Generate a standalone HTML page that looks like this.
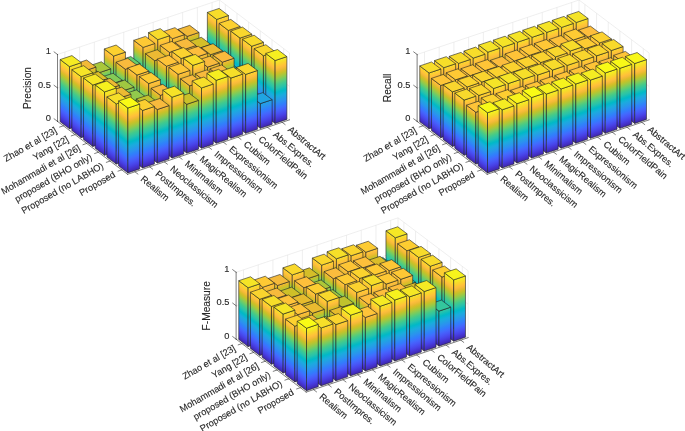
<!DOCTYPE html>
<html><head><meta charset="utf-8"><style>html,body{margin:0;padding:0;background:#fff;}svg{display:block}</style></head>
<body><svg width="685" height="431" viewBox="0 0 685 431"><defs><linearGradient id="pz0" gradientUnits="userSpaceOnUse" x1="0" y1="0" x2="0" y2="0.97"><stop offset="0.0000" stop-color="#3e26a8"/><stop offset="0.0312" stop-color="#422ebf"/><stop offset="0.0625" stop-color="#4536d5"/><stop offset="0.0938" stop-color="#4741e5"/><stop offset="0.1250" stop-color="#484cef"/><stop offset="0.1562" stop-color="#4757f7"/><stop offset="0.1875" stop-color="#4562fc"/><stop offset="0.2188" stop-color="#3f6efe"/><stop offset="0.2500" stop-color="#347afd"/><stop offset="0.2812" stop-color="#2e85f8"/><stop offset="0.3125" stop-color="#2c90f0"/><stop offset="0.3438" stop-color="#269ae9"/><stop offset="0.3750" stop-color="#21a3e3"/><stop offset="0.4062" stop-color="#1aacdd"/><stop offset="0.4375" stop-color="#0cb3d3"/><stop offset="0.4688" stop-color="#01b9c6"/><stop offset="0.5000" stop-color="#12beb9"/><stop offset="0.5312" stop-color="#28c2ab"/><stop offset="0.5625" stop-color="#34c79c"/><stop offset="0.5938" stop-color="#44ca8a"/><stop offset="0.6250" stop-color="#5ccc76"/><stop offset="0.6562" stop-color="#77cc60"/><stop offset="0.6875" stop-color="#94ca4a"/><stop offset="0.7188" stop-color="#afc637"/><stop offset="0.7500" stop-color="#c8c129"/><stop offset="0.7812" stop-color="#debc2a"/><stop offset="0.8125" stop-color="#f1ba37"/><stop offset="0.8438" stop-color="#febe3c"/><stop offset="0.8750" stop-color="#feca33"/><stop offset="0.9062" stop-color="#f9d62d"/><stop offset="0.9375" stop-color="#f5e327"/><stop offset="0.9688" stop-color="#f6ef20"/><stop offset="1.0000" stop-color="#f9fb15"/></linearGradient><linearGradient id="pz1" gradientUnits="userSpaceOnUse" x1="0" y1="0" x2="0" y2="0.905"><stop offset="0.0000" stop-color="#3e26a8"/><stop offset="0.0312" stop-color="#422ebf"/><stop offset="0.0625" stop-color="#4536d5"/><stop offset="0.0938" stop-color="#4741e5"/><stop offset="0.1250" stop-color="#484cef"/><stop offset="0.1562" stop-color="#4757f7"/><stop offset="0.1875" stop-color="#4562fc"/><stop offset="0.2188" stop-color="#3f6efe"/><stop offset="0.2500" stop-color="#347afd"/><stop offset="0.2812" stop-color="#2e85f8"/><stop offset="0.3125" stop-color="#2c90f0"/><stop offset="0.3438" stop-color="#269ae9"/><stop offset="0.3750" stop-color="#21a3e3"/><stop offset="0.4062" stop-color="#1aacdd"/><stop offset="0.4375" stop-color="#0cb3d3"/><stop offset="0.4688" stop-color="#01b9c6"/><stop offset="0.5000" stop-color="#12beb9"/><stop offset="0.5312" stop-color="#28c2ab"/><stop offset="0.5625" stop-color="#34c79c"/><stop offset="0.5938" stop-color="#44ca8a"/><stop offset="0.6250" stop-color="#5ccc76"/><stop offset="0.6562" stop-color="#77cc60"/><stop offset="0.6875" stop-color="#94ca4a"/><stop offset="0.7188" stop-color="#afc637"/><stop offset="0.7500" stop-color="#c8c129"/><stop offset="0.7812" stop-color="#debc2a"/><stop offset="0.8125" stop-color="#f1ba37"/><stop offset="0.8438" stop-color="#febe3c"/><stop offset="0.8750" stop-color="#feca33"/><stop offset="0.9062" stop-color="#f9d62d"/><stop offset="0.9375" stop-color="#f5e327"/><stop offset="0.9688" stop-color="#f6ef20"/><stop offset="1.0000" stop-color="#f9fb15"/></linearGradient><linearGradient id="pz2" gradientUnits="userSpaceOnUse" x1="0" y1="0" x2="0" y2="0.934"><stop offset="0.0000" stop-color="#3e26a8"/><stop offset="0.0312" stop-color="#422ebf"/><stop offset="0.0625" stop-color="#4536d5"/><stop offset="0.0938" stop-color="#4741e5"/><stop offset="0.1250" stop-color="#484cef"/><stop offset="0.1562" stop-color="#4757f7"/><stop offset="0.1875" stop-color="#4562fc"/><stop offset="0.2188" stop-color="#3f6efe"/><stop offset="0.2500" stop-color="#347afd"/><stop offset="0.2812" stop-color="#2e85f8"/><stop offset="0.3125" stop-color="#2c90f0"/><stop offset="0.3438" stop-color="#269ae9"/><stop offset="0.3750" stop-color="#21a3e3"/><stop offset="0.4062" stop-color="#1aacdd"/><stop offset="0.4375" stop-color="#0cb3d3"/><stop offset="0.4688" stop-color="#01b9c6"/><stop offset="0.5000" stop-color="#12beb9"/><stop offset="0.5312" stop-color="#28c2ab"/><stop offset="0.5625" stop-color="#34c79c"/><stop offset="0.5938" stop-color="#44ca8a"/><stop offset="0.6250" stop-color="#5ccc76"/><stop offset="0.6562" stop-color="#77cc60"/><stop offset="0.6875" stop-color="#94ca4a"/><stop offset="0.7188" stop-color="#afc637"/><stop offset="0.7500" stop-color="#c8c129"/><stop offset="0.7812" stop-color="#debc2a"/><stop offset="0.8125" stop-color="#f1ba37"/><stop offset="0.8438" stop-color="#febe3c"/><stop offset="0.8750" stop-color="#feca33"/><stop offset="0.9062" stop-color="#f9d62d"/><stop offset="0.9375" stop-color="#f5e327"/><stop offset="0.9688" stop-color="#f6ef20"/><stop offset="1.0000" stop-color="#f9fb15"/></linearGradient></defs><g stroke="#dedede" stroke-width="0.5" fill="none"><line x1="57.52" y1="121.38" x2="219.44" y2="66.93"/><line x1="219.44" y1="66.93" x2="289.52" y2="119.85"/><line x1="57.52" y1="87.93" x2="219.44" y2="33.48"/><line x1="219.44" y1="33.48" x2="289.52" y2="86.40"/><line x1="57.52" y1="54.48" x2="219.44" y2="0.03"/><line x1="219.44" y1="0.03" x2="289.52" y2="52.95"/><line x1="64.88" y1="118.91" x2="64.88" y2="52.01"/><line x1="134.96" y1="171.83" x2="64.88" y2="118.91"/><line x1="79.60" y1="113.95" x2="79.60" y2="47.05"/><line x1="149.68" y1="166.88" x2="79.60" y2="113.95"/><line x1="94.32" y1="109.01" x2="94.32" y2="42.11"/><line x1="164.40" y1="161.93" x2="94.32" y2="109.01"/><line x1="109.04" y1="104.06" x2="109.04" y2="37.16"/><line x1="179.12" y1="156.98" x2="109.04" y2="104.06"/><line x1="123.76" y1="99.11" x2="123.76" y2="32.20"/><line x1="193.84" y1="152.03" x2="123.76" y2="99.11"/><line x1="138.48" y1="94.16" x2="138.48" y2="27.26"/><line x1="208.56" y1="147.08" x2="138.48" y2="94.16"/><line x1="153.20" y1="89.20" x2="153.20" y2="22.30"/><line x1="223.28" y1="142.12" x2="153.20" y2="89.20"/><line x1="167.92" y1="84.26" x2="167.92" y2="17.36"/><line x1="238.00" y1="137.18" x2="167.92" y2="84.26"/><line x1="182.64" y1="79.31" x2="182.64" y2="12.41"/><line x1="252.72" y1="132.23" x2="182.64" y2="79.31"/><line x1="197.36" y1="74.36" x2="197.36" y2="7.45"/><line x1="267.44" y1="127.28" x2="197.36" y2="74.36"/><line x1="212.08" y1="69.41" x2="212.08" y2="2.51"/><line x1="282.16" y1="122.33" x2="212.08" y2="69.41"/><line x1="283.68" y1="115.44" x2="283.68" y2="48.54"/><line x1="121.76" y1="169.89" x2="283.68" y2="115.44"/><line x1="272.00" y1="106.62" x2="272.00" y2="39.72"/><line x1="110.08" y1="161.07" x2="272.00" y2="106.62"/><line x1="260.32" y1="97.80" x2="260.32" y2="30.90"/><line x1="98.40" y1="152.25" x2="260.32" y2="97.80"/><line x1="248.64" y1="88.98" x2="248.64" y2="22.08"/><line x1="86.72" y1="143.43" x2="248.64" y2="88.98"/><line x1="236.96" y1="80.16" x2="236.96" y2="13.26"/><line x1="75.04" y1="134.61" x2="236.96" y2="80.16"/><line x1="225.28" y1="71.34" x2="225.28" y2="4.44"/><line x1="63.36" y1="125.79" x2="225.28" y2="71.34"/><line x1="219.44" y1="66.93" x2="219.44" y2="0.03"/><line x1="289.52" y1="119.85" x2="289.52" y2="52.95"/></g><g><path transform="matrix(-11.6800,-8.8200,0.0000,-66.9000,276.272,124.305)" d="M5.100,0H5.900V0.8950H5.100Z" fill="url(#pz0)" stroke="#222" stroke-width="0.6" stroke-linejoin="round" vector-effect="non-scaling-stroke"/><path transform="matrix(14.7200,-4.9500,0.0000,-66.9000,68.032,129.318)" d="M10.100,0H10.900V0.8950H10.100Z" fill="url(#pz0)" stroke="#222" stroke-width="0.6" stroke-linejoin="round" vector-effect="non-scaling-stroke"/><path d="M216.70,19.45L228.48,15.49L219.14,8.43L207.36,12.39Z" fill="#f7dd2a" stroke="#222" stroke-width="0.6" stroke-linejoin="round"/><path transform="matrix(-11.6800,-8.8200,0.0000,-66.9000,261.552,129.255)" d="M5.100,0H5.900V0.4500H5.100Z" fill="url(#pz0)" stroke="#222" stroke-width="0.6" stroke-linejoin="round" vector-effect="non-scaling-stroke"/><path transform="matrix(14.7200,-4.9500,0.0000,-66.9000,68.032,129.318)" d="M9.100,0H9.900V0.4500H9.100Z" fill="url(#pz0)" stroke="#222" stroke-width="0.6" stroke-linejoin="round" vector-effect="non-scaling-stroke"/><path d="M201.98,54.17L213.76,50.21L204.42,43.15L192.64,47.11Z" fill="#01b8c8" stroke="#222" stroke-width="0.6" stroke-linejoin="round"/><path transform="matrix(-11.6800,-8.8200,0.0000,-66.9000,276.272,124.305)" d="M4.100,0H4.900V0.8630H4.100Z" fill="url(#pz0)" stroke="#222" stroke-width="0.6" stroke-linejoin="round" vector-effect="non-scaling-stroke"/><path transform="matrix(14.7200,-4.9500,0.0000,-66.9000,79.712,138.138)" d="M10.100,0H10.900V0.8630H10.100Z" fill="url(#pz0)" stroke="#222" stroke-width="0.6" stroke-linejoin="round" vector-effect="non-scaling-stroke"/><path d="M228.38,30.41L240.16,26.45L230.82,19.39L219.04,23.35Z" fill="#fcd030" stroke="#222" stroke-width="0.6" stroke-linejoin="round"/><path transform="matrix(-11.6800,-8.8200,0.0000,-66.9000,246.832,134.205)" d="M5.100,0H5.900V0.7900H5.100Z" fill="url(#pz0)" stroke="#222" stroke-width="0.6" stroke-linejoin="round" vector-effect="non-scaling-stroke"/><path transform="matrix(14.7200,-4.9500,0.0000,-66.9000,68.032,129.318)" d="M8.100,0H8.900V0.7900H8.100Z" fill="url(#pz0)" stroke="#222" stroke-width="0.6" stroke-linejoin="round" vector-effect="non-scaling-stroke"/><path d="M187.26,36.37L199.04,32.41L189.70,25.36L177.92,29.32Z" fill="#f2ba38" stroke="#222" stroke-width="0.6" stroke-linejoin="round"/><path transform="matrix(-11.6800,-8.8200,0.0000,-66.9000,261.552,129.255)" d="M4.100,0H4.900V0.4500H4.100Z" fill="url(#pz0)" stroke="#222" stroke-width="0.6" stroke-linejoin="round" vector-effect="non-scaling-stroke"/><path transform="matrix(14.7200,-4.9500,0.0000,-66.9000,79.712,138.138)" d="M9.100,0H9.900V0.4500H9.100Z" fill="url(#pz0)" stroke="#222" stroke-width="0.6" stroke-linejoin="round" vector-effect="non-scaling-stroke"/><path d="M213.66,62.99L225.44,59.03L216.10,51.97L204.32,55.93Z" fill="#01b8c8" stroke="#222" stroke-width="0.6" stroke-linejoin="round"/><path transform="matrix(-11.6800,-8.8200,0.0000,-66.9000,276.272,124.305)" d="M3.100,0H3.900V0.8800H3.100Z" fill="url(#pz0)" stroke="#222" stroke-width="0.6" stroke-linejoin="round" vector-effect="non-scaling-stroke"/><path transform="matrix(14.7200,-4.9500,0.0000,-66.9000,91.392,146.958)" d="M10.100,0H10.900V0.8800H10.100Z" fill="url(#pz0)" stroke="#222" stroke-width="0.6" stroke-linejoin="round" vector-effect="non-scaling-stroke"/><path d="M240.06,38.09L251.84,34.13L242.50,27.07L230.72,31.04Z" fill="#f9d72d" stroke="#222" stroke-width="0.6" stroke-linejoin="round"/><path transform="matrix(-11.6800,-8.8200,0.0000,-66.9000,232.112,139.155)" d="M5.100,0H5.900V0.8300H5.100Z" fill="url(#pz0)" stroke="#222" stroke-width="0.6" stroke-linejoin="round" vector-effect="non-scaling-stroke"/><path transform="matrix(14.7200,-4.9500,0.0000,-66.9000,68.032,129.318)" d="M7.100,0H7.900V0.8300H7.100Z" fill="url(#pz0)" stroke="#222" stroke-width="0.6" stroke-linejoin="round" vector-effect="non-scaling-stroke"/><path d="M172.54,38.65L184.32,34.69L174.98,27.63L163.20,31.59Z" fill="#fec338" stroke="#222" stroke-width="0.6" stroke-linejoin="round"/><path transform="matrix(-11.6800,-8.8200,0.0000,-66.9000,246.832,134.205)" d="M4.100,0H4.900V0.7430H4.100Z" fill="url(#pz0)" stroke="#222" stroke-width="0.6" stroke-linejoin="round" vector-effect="non-scaling-stroke"/><path transform="matrix(14.7200,-4.9500,0.0000,-66.9000,79.712,138.138)" d="M8.100,0H8.900V0.7430H8.100Z" fill="url(#pz0)" stroke="#222" stroke-width="0.6" stroke-linejoin="round" vector-effect="non-scaling-stroke"/><path d="M198.94,48.34L210.72,44.38L201.38,37.32L189.60,41.28Z" fill="#d4bf28" stroke="#222" stroke-width="0.6" stroke-linejoin="round"/><path transform="matrix(-11.6800,-8.8200,0.0000,-66.9000,261.552,129.255)" d="M3.100,0H3.900V0.4500H3.100Z" fill="url(#pz0)" stroke="#222" stroke-width="0.6" stroke-linejoin="round" vector-effect="non-scaling-stroke"/><path transform="matrix(14.7200,-4.9500,0.0000,-66.9000,91.392,146.958)" d="M9.100,0H9.900V0.4500H9.100Z" fill="url(#pz0)" stroke="#222" stroke-width="0.6" stroke-linejoin="round" vector-effect="non-scaling-stroke"/><path d="M225.34,71.81L237.12,67.85L227.78,60.79L216.00,64.75Z" fill="#01b8c8" stroke="#222" stroke-width="0.6" stroke-linejoin="round"/><path transform="matrix(-11.6800,-8.8200,0.0000,-66.9000,276.272,124.305)" d="M2.100,0H2.900V0.8900H2.100Z" fill="url(#pz0)" stroke="#222" stroke-width="0.6" stroke-linejoin="round" vector-effect="non-scaling-stroke"/><path transform="matrix(14.7200,-4.9500,0.0000,-66.9000,103.072,155.778)" d="M10.100,0H10.900V0.8900H10.100Z" fill="url(#pz0)" stroke="#222" stroke-width="0.6" stroke-linejoin="round" vector-effect="non-scaling-stroke"/><path d="M251.74,46.24L263.52,42.28L254.18,35.23L242.40,39.19Z" fill="#f7db2b" stroke="#222" stroke-width="0.6" stroke-linejoin="round"/><path transform="matrix(-11.6800,-8.8200,0.0000,-66.9000,217.392,144.105)" d="M5.100,0H5.900V0.8890H5.100Z" fill="url(#pz0)" stroke="#222" stroke-width="0.6" stroke-linejoin="round" vector-effect="non-scaling-stroke"/><path transform="matrix(14.7200,-4.9500,0.0000,-66.9000,68.032,129.318)" d="M6.100,0H6.900V0.8890H6.100Z" fill="url(#pz0)" stroke="#222" stroke-width="0.6" stroke-linejoin="round" vector-effect="non-scaling-stroke"/><path d="M157.82,39.65L169.60,35.69L160.26,28.63L148.48,32.59Z" fill="#f7db2b" stroke="#222" stroke-width="0.6" stroke-linejoin="round"/><path transform="matrix(-11.6800,-8.8200,0.0000,-66.9000,232.112,139.155)" d="M4.100,0H4.900V0.8000H4.100Z" fill="url(#pz0)" stroke="#222" stroke-width="0.6" stroke-linejoin="round" vector-effect="non-scaling-stroke"/><path transform="matrix(14.7200,-4.9500,0.0000,-66.9000,79.712,138.138)" d="M7.100,0H7.900V0.8000H7.100Z" fill="url(#pz0)" stroke="#222" stroke-width="0.6" stroke-linejoin="round" vector-effect="non-scaling-stroke"/><path d="M184.22,49.47L196.00,45.51L186.66,38.46L174.88,42.42Z" fill="#f8ba3d" stroke="#222" stroke-width="0.6" stroke-linejoin="round"/><path transform="matrix(-11.6800,-8.8200,0.0000,-66.9000,246.832,134.205)" d="M3.100,0H3.900V0.7800H3.100Z" fill="url(#pz0)" stroke="#222" stroke-width="0.6" stroke-linejoin="round" vector-effect="non-scaling-stroke"/><path transform="matrix(14.7200,-4.9500,0.0000,-66.9000,91.392,146.958)" d="M8.100,0H8.900V0.7800H8.100Z" fill="url(#pz0)" stroke="#222" stroke-width="0.6" stroke-linejoin="round" vector-effect="non-scaling-stroke"/><path d="M210.62,54.68L222.40,50.72L213.06,43.66L201.28,47.63Z" fill="#ecba33" stroke="#222" stroke-width="0.6" stroke-linejoin="round"/><path transform="matrix(-11.6800,-8.8200,0.0000,-66.9000,261.552,129.255)" d="M2.100,0H2.900V0.4500H2.100Z" fill="url(#pz0)" stroke="#222" stroke-width="0.6" stroke-linejoin="round" vector-effect="non-scaling-stroke"/><path transform="matrix(14.7200,-4.9500,0.0000,-66.9000,103.072,155.778)" d="M9.100,0H9.900V0.4500H9.100Z" fill="url(#pz0)" stroke="#222" stroke-width="0.6" stroke-linejoin="round" vector-effect="non-scaling-stroke"/><path d="M237.02,80.63L248.80,76.67L239.46,69.61L227.68,73.57Z" fill="#01b8c8" stroke="#222" stroke-width="0.6" stroke-linejoin="round"/><path transform="matrix(-11.6800,-8.8200,0.0000,-66.9000,276.272,124.305)" d="M1.100,0H1.900V0.8800H1.100Z" fill="url(#pz0)" stroke="#222" stroke-width="0.6" stroke-linejoin="round" vector-effect="non-scaling-stroke"/><path transform="matrix(14.7200,-4.9500,0.0000,-66.9000,114.752,164.598)" d="M10.100,0H10.900V0.8800H10.100Z" fill="url(#pz0)" stroke="#222" stroke-width="0.6" stroke-linejoin="round" vector-effect="non-scaling-stroke"/><path d="M263.42,55.73L275.20,51.77L265.86,44.71L254.08,48.68Z" fill="#f9d72d" stroke="#222" stroke-width="0.6" stroke-linejoin="round"/><path transform="matrix(-11.6800,-8.8200,0.0000,-66.9000,202.672,149.055)" d="M5.100,0H5.900V0.8470H5.100Z" fill="url(#pz0)" stroke="#222" stroke-width="0.6" stroke-linejoin="round" vector-effect="non-scaling-stroke"/><path transform="matrix(14.7200,-4.9500,0.0000,-66.9000,68.032,129.318)" d="M5.100,0H5.900V0.8470H5.100Z" fill="url(#pz0)" stroke="#222" stroke-width="0.6" stroke-linejoin="round" vector-effect="non-scaling-stroke"/><path d="M143.10,47.41L154.88,43.45L145.54,36.39L133.76,40.35Z" fill="#fec934" stroke="#222" stroke-width="0.6" stroke-linejoin="round"/><path transform="matrix(-11.6800,-8.8200,0.0000,-66.9000,217.392,144.105)" d="M4.100,0H4.900V0.8300H4.100Z" fill="url(#pz0)" stroke="#222" stroke-width="0.6" stroke-linejoin="round" vector-effect="non-scaling-stroke"/><path transform="matrix(14.7200,-4.9500,0.0000,-66.9000,79.712,138.138)" d="M6.100,0H6.900V0.8300H6.100Z" fill="url(#pz0)" stroke="#222" stroke-width="0.6" stroke-linejoin="round" vector-effect="non-scaling-stroke"/><path d="M169.50,52.42L181.28,48.46L171.94,41.40L160.16,45.36Z" fill="#fec338" stroke="#222" stroke-width="0.6" stroke-linejoin="round"/><path transform="matrix(-11.6800,-8.8200,0.0000,-66.9000,232.112,139.155)" d="M3.100,0H3.900V0.8150H3.100Z" fill="url(#pz0)" stroke="#222" stroke-width="0.6" stroke-linejoin="round" vector-effect="non-scaling-stroke"/><path transform="matrix(14.7200,-4.9500,0.0000,-66.9000,91.392,146.958)" d="M7.100,0H7.900V0.8150H7.100Z" fill="url(#pz0)" stroke="#222" stroke-width="0.6" stroke-linejoin="round" vector-effect="non-scaling-stroke"/><path d="M195.90,57.29L207.68,53.33L198.34,46.27L186.56,50.23Z" fill="#fdbd3c" stroke="#222" stroke-width="0.6" stroke-linejoin="round"/><path transform="matrix(-11.6800,-8.8200,0.0000,-66.9000,246.832,134.205)" d="M2.100,0H2.900V0.8000H2.100Z" fill="url(#pz0)" stroke="#222" stroke-width="0.6" stroke-linejoin="round" vector-effect="non-scaling-stroke"/><path transform="matrix(14.7200,-4.9500,0.0000,-66.9000,103.072,155.778)" d="M8.100,0H8.900V0.8000H8.100Z" fill="url(#pz0)" stroke="#222" stroke-width="0.6" stroke-linejoin="round" vector-effect="non-scaling-stroke"/><path d="M222.30,62.16L234.08,58.20L224.74,51.15L212.96,55.11Z" fill="#f8ba3d" stroke="#222" stroke-width="0.6" stroke-linejoin="round"/><path transform="matrix(-11.6800,-8.8200,0.0000,-66.9000,261.552,129.255)" d="M1.100,0H1.900V0.3000H1.100Z" fill="url(#pz0)" stroke="#222" stroke-width="0.6" stroke-linejoin="round" vector-effect="non-scaling-stroke"/><path transform="matrix(14.7200,-4.9500,0.0000,-66.9000,114.752,164.598)" d="M9.100,0H9.900V0.3000H9.100Z" fill="url(#pz0)" stroke="#222" stroke-width="0.6" stroke-linejoin="round" vector-effect="non-scaling-stroke"/><path d="M248.70,99.48L260.48,95.52L251.14,88.47L239.36,92.43Z" fill="#2c8ff1" stroke="#222" stroke-width="0.6" stroke-linejoin="round"/><path transform="matrix(-11.6800,-8.8200,0.0000,-66.9000,276.272,124.305)" d="M0.100,0H0.900V0.9400H0.100Z" fill="url(#pz0)" stroke="#222" stroke-width="0.6" stroke-linejoin="round" vector-effect="non-scaling-stroke"/><path transform="matrix(14.7200,-4.9500,0.0000,-66.9000,126.432,173.418)" d="M10.100,0H10.900V0.9400H10.100Z" fill="url(#pz0)" stroke="#222" stroke-width="0.6" stroke-linejoin="round" vector-effect="non-scaling-stroke"/><path d="M275.10,60.54L286.88,56.58L277.54,49.52L265.76,53.48Z" fill="#f6ef20" stroke="#222" stroke-width="0.6" stroke-linejoin="round"/><path transform="matrix(-11.6800,-8.8200,0.0000,-66.9000,187.952,154.005)" d="M5.100,0H5.900V0.6200H5.100Z" fill="url(#pz0)" stroke="#222" stroke-width="0.6" stroke-linejoin="round" vector-effect="non-scaling-stroke"/><path transform="matrix(14.7200,-4.9500,0.0000,-66.9000,68.032,129.318)" d="M4.100,0H4.900V0.6200H4.100Z" fill="url(#pz0)" stroke="#222" stroke-width="0.6" stroke-linejoin="round" vector-effect="non-scaling-stroke"/><path d="M128.38,67.55L140.16,63.59L130.82,56.53L119.04,60.49Z" fill="#67cd6c" stroke="#222" stroke-width="0.6" stroke-linejoin="round"/><path transform="matrix(-11.6800,-8.8200,0.0000,-66.9000,202.672,149.055)" d="M4.100,0H4.900V0.7800H4.100Z" fill="url(#pz0)" stroke="#222" stroke-width="0.6" stroke-linejoin="round" vector-effect="non-scaling-stroke"/><path transform="matrix(14.7200,-4.9500,0.0000,-66.9000,79.712,138.138)" d="M5.100,0H5.900V0.7800H5.100Z" fill="url(#pz0)" stroke="#222" stroke-width="0.6" stroke-linejoin="round" vector-effect="non-scaling-stroke"/><path d="M154.78,60.71L166.56,56.75L157.22,49.69L145.44,53.65Z" fill="#ecba33" stroke="#222" stroke-width="0.6" stroke-linejoin="round"/><path transform="matrix(-11.6800,-8.8200,0.0000,-66.9000,217.392,144.105)" d="M3.100,0H3.900V0.8700H3.100Z" fill="url(#pz0)" stroke="#222" stroke-width="0.6" stroke-linejoin="round" vector-effect="non-scaling-stroke"/><path transform="matrix(14.7200,-4.9500,0.0000,-66.9000,91.392,146.958)" d="M6.100,0H6.900V0.8700H6.100Z" fill="url(#pz0)" stroke="#222" stroke-width="0.6" stroke-linejoin="round" vector-effect="non-scaling-stroke"/><path d="M181.18,58.56L192.96,54.60L183.62,47.54L171.84,51.50Z" fill="#fbd32f" stroke="#222" stroke-width="0.6" stroke-linejoin="round"/><path transform="matrix(-11.6800,-8.8200,0.0000,-66.9000,232.112,139.155)" d="M2.100,0H2.900V0.8000H2.100Z" fill="url(#pz0)" stroke="#222" stroke-width="0.6" stroke-linejoin="round" vector-effect="non-scaling-stroke"/><path transform="matrix(14.7200,-4.9500,0.0000,-66.9000,103.072,155.778)" d="M7.100,0H7.900V0.8000H7.100Z" fill="url(#pz0)" stroke="#222" stroke-width="0.6" stroke-linejoin="round" vector-effect="non-scaling-stroke"/><path d="M207.58,67.11L219.36,63.15L210.02,56.10L198.24,60.06Z" fill="#f8ba3d" stroke="#222" stroke-width="0.6" stroke-linejoin="round"/><path transform="matrix(-11.6800,-8.8200,0.0000,-66.9000,246.832,134.205)" d="M1.100,0H1.900V0.6800H1.100Z" fill="url(#pz0)" stroke="#222" stroke-width="0.6" stroke-linejoin="round" vector-effect="non-scaling-stroke"/><path transform="matrix(14.7200,-4.9500,0.0000,-66.9000,114.752,164.598)" d="M8.100,0H8.900V0.6800H8.100Z" fill="url(#pz0)" stroke="#222" stroke-width="0.6" stroke-linejoin="round" vector-effect="non-scaling-stroke"/><path d="M233.98,79.01L245.76,75.05L236.42,68.00L224.64,71.96Z" fill="#a0c841" stroke="#222" stroke-width="0.6" stroke-linejoin="round"/><path transform="matrix(-11.6800,-8.8200,0.0000,-66.9000,261.552,129.255)" d="M0.100,0H0.900V0.3700H0.100Z" fill="url(#pz0)" stroke="#222" stroke-width="0.6" stroke-linejoin="round" vector-effect="non-scaling-stroke"/><path transform="matrix(14.7200,-4.9500,0.0000,-66.9000,126.432,173.418)" d="M9.100,0H9.900V0.3700H9.100Z" fill="url(#pz0)" stroke="#222" stroke-width="0.6" stroke-linejoin="round" vector-effect="non-scaling-stroke"/><path d="M260.38,103.62L272.16,99.66L262.82,92.60L251.04,96.56Z" fill="#20a5e2" stroke="#222" stroke-width="0.6" stroke-linejoin="round"/><path transform="matrix(-11.6800,-8.8200,0.0000,-66.9000,173.232,158.955)" d="M5.100,0H5.900V0.8660H5.100Z" fill="url(#pz0)" stroke="#222" stroke-width="0.6" stroke-linejoin="round" vector-effect="non-scaling-stroke"/><path transform="matrix(14.7200,-4.9500,0.0000,-66.9000,68.032,129.318)" d="M3.100,0H3.900V0.8660H3.100Z" fill="url(#pz0)" stroke="#222" stroke-width="0.6" stroke-linejoin="round" vector-effect="non-scaling-stroke"/><path d="M113.66,56.04L125.44,52.08L116.10,45.02L104.32,48.98Z" fill="#fcd12f" stroke="#222" stroke-width="0.6" stroke-linejoin="round"/><path transform="matrix(-11.6800,-8.8200,0.0000,-66.9000,187.952,154.005)" d="M4.100,0H4.900V0.6000H4.100Z" fill="url(#pz0)" stroke="#222" stroke-width="0.6" stroke-linejoin="round" vector-effect="non-scaling-stroke"/><path transform="matrix(14.7200,-4.9500,0.0000,-66.9000,79.712,138.138)" d="M4.100,0H4.900V0.6000H4.100Z" fill="url(#pz0)" stroke="#222" stroke-width="0.6" stroke-linejoin="round" vector-effect="non-scaling-stroke"/><path d="M140.06,77.70L151.84,73.74L142.50,66.69L130.72,70.65Z" fill="#56cc7a" stroke="#222" stroke-width="0.6" stroke-linejoin="round"/><path transform="matrix(-11.6800,-8.8200,0.0000,-66.9000,202.672,149.055)" d="M3.100,0H3.900V0.8300H3.100Z" fill="url(#pz0)" stroke="#222" stroke-width="0.6" stroke-linejoin="round" vector-effect="non-scaling-stroke"/><path transform="matrix(14.7200,-4.9500,0.0000,-66.9000,91.392,146.958)" d="M5.100,0H5.900V0.8300H5.100Z" fill="url(#pz0)" stroke="#222" stroke-width="0.6" stroke-linejoin="round" vector-effect="non-scaling-stroke"/><path d="M166.46,66.19L178.24,62.23L168.90,55.17L157.12,59.13Z" fill="#fec338" stroke="#222" stroke-width="0.6" stroke-linejoin="round"/><path transform="matrix(-11.6800,-8.8200,0.0000,-66.9000,217.392,144.105)" d="M2.100,0H2.900V0.9000H2.100Z" fill="url(#pz0)" stroke="#222" stroke-width="0.6" stroke-linejoin="round" vector-effect="non-scaling-stroke"/><path transform="matrix(14.7200,-4.9500,0.0000,-66.9000,103.072,155.778)" d="M6.100,0H6.900V0.9000H6.100Z" fill="url(#pz0)" stroke="#222" stroke-width="0.6" stroke-linejoin="round" vector-effect="non-scaling-stroke"/><path d="M192.86,65.37L204.64,61.41L195.30,54.36L183.52,58.32Z" fill="#f6df29" stroke="#222" stroke-width="0.6" stroke-linejoin="round"/><path transform="matrix(-11.6800,-8.8200,0.0000,-66.9000,232.112,139.155)" d="M1.100,0H1.900V0.8000H1.100Z" fill="url(#pz0)" stroke="#222" stroke-width="0.6" stroke-linejoin="round" vector-effect="non-scaling-stroke"/><path transform="matrix(14.7200,-4.9500,0.0000,-66.9000,114.752,164.598)" d="M7.100,0H7.900V0.8000H7.100Z" fill="url(#pz0)" stroke="#222" stroke-width="0.6" stroke-linejoin="round" vector-effect="non-scaling-stroke"/><path d="M219.26,75.93L231.04,71.97L221.70,64.92L209.92,68.88Z" fill="#f8ba3d" stroke="#222" stroke-width="0.6" stroke-linejoin="round"/><path transform="matrix(-11.6800,-8.8200,0.0000,-66.9000,246.832,134.205)" d="M0.100,0H0.900V0.8800H0.100Z" fill="url(#pz0)" stroke="#222" stroke-width="0.6" stroke-linejoin="round" vector-effect="non-scaling-stroke"/><path transform="matrix(14.7200,-4.9500,0.0000,-66.9000,126.432,173.418)" d="M8.100,0H8.900V0.8800H8.100Z" fill="url(#pz0)" stroke="#222" stroke-width="0.6" stroke-linejoin="round" vector-effect="non-scaling-stroke"/><path d="M245.66,74.45L257.44,70.49L248.10,63.43L236.32,67.40Z" fill="#f9d72d" stroke="#222" stroke-width="0.6" stroke-linejoin="round"/><path transform="matrix(-11.6800,-8.8200,0.0000,-66.9000,158.512,163.905)" d="M5.100,0H5.900V0.6900H5.100Z" fill="url(#pz0)" stroke="#222" stroke-width="0.6" stroke-linejoin="round" vector-effect="non-scaling-stroke"/><path transform="matrix(14.7200,-4.9500,0.0000,-66.9000,68.032,129.318)" d="M2.100,0H2.900V0.6900H2.100Z" fill="url(#pz0)" stroke="#222" stroke-width="0.6" stroke-linejoin="round" vector-effect="non-scaling-stroke"/><path d="M98.94,72.76L110.72,68.80L101.38,61.75L89.60,65.71Z" fill="#a9c73b" stroke="#222" stroke-width="0.6" stroke-linejoin="round"/><path transform="matrix(-11.6800,-8.8200,0.0000,-66.9000,173.232,158.955)" d="M4.100,0H4.900V0.8000H4.100Z" fill="url(#pz0)" stroke="#222" stroke-width="0.6" stroke-linejoin="round" vector-effect="non-scaling-stroke"/><path transform="matrix(14.7200,-4.9500,0.0000,-66.9000,79.712,138.138)" d="M3.100,0H3.900V0.8000H3.100Z" fill="url(#pz0)" stroke="#222" stroke-width="0.6" stroke-linejoin="round" vector-effect="non-scaling-stroke"/><path d="M125.34,69.27L137.12,65.31L127.78,58.26L116.00,62.22Z" fill="#f8ba3d" stroke="#222" stroke-width="0.6" stroke-linejoin="round"/><path transform="matrix(-11.6800,-8.8200,0.0000,-66.9000,187.952,154.005)" d="M3.100,0H3.900V0.5500H3.100Z" fill="url(#pz0)" stroke="#222" stroke-width="0.6" stroke-linejoin="round" vector-effect="non-scaling-stroke"/><path transform="matrix(14.7200,-4.9500,0.0000,-66.9000,91.392,146.958)" d="M4.100,0H4.900V0.5500H4.100Z" fill="url(#pz0)" stroke="#222" stroke-width="0.6" stroke-linejoin="round" vector-effect="non-scaling-stroke"/><path d="M151.74,89.87L163.52,85.91L154.18,78.85L142.40,82.81Z" fill="#36c799" stroke="#222" stroke-width="0.6" stroke-linejoin="round"/><path transform="matrix(-11.6800,-8.8200,0.0000,-66.9000,202.672,149.055)" d="M2.100,0H2.900V0.8400H2.100Z" fill="url(#pz0)" stroke="#222" stroke-width="0.6" stroke-linejoin="round" vector-effect="non-scaling-stroke"/><path transform="matrix(14.7200,-4.9500,0.0000,-66.9000,103.072,155.778)" d="M5.100,0H5.900V0.8400H5.100Z" fill="url(#pz0)" stroke="#222" stroke-width="0.6" stroke-linejoin="round" vector-effect="non-scaling-stroke"/><path d="M178.14,74.34L189.92,70.38L180.58,63.32L168.80,67.28Z" fill="#fec736" stroke="#222" stroke-width="0.6" stroke-linejoin="round"/><path transform="matrix(-11.6800,-8.8200,0.0000,-66.9000,217.392,144.105)" d="M1.100,0H1.900V0.8000H1.100Z" fill="url(#pz0)" stroke="#222" stroke-width="0.6" stroke-linejoin="round" vector-effect="non-scaling-stroke"/><path transform="matrix(14.7200,-4.9500,0.0000,-66.9000,114.752,164.598)" d="M6.100,0H6.900V0.8000H6.100Z" fill="url(#pz0)" stroke="#222" stroke-width="0.6" stroke-linejoin="round" vector-effect="non-scaling-stroke"/><path d="M204.54,80.88L216.32,76.92L206.98,69.87L195.20,73.83Z" fill="#f8ba3d" stroke="#222" stroke-width="0.6" stroke-linejoin="round"/><path transform="matrix(-11.6800,-8.8200,0.0000,-66.9000,232.112,139.155)" d="M0.100,0H0.900V0.9000H0.100Z" fill="url(#pz0)" stroke="#222" stroke-width="0.6" stroke-linejoin="round" vector-effect="non-scaling-stroke"/><path transform="matrix(14.7200,-4.9500,0.0000,-66.9000,126.432,173.418)" d="M7.100,0H7.900V0.9000H7.100Z" fill="url(#pz0)" stroke="#222" stroke-width="0.6" stroke-linejoin="round" vector-effect="non-scaling-stroke"/><path d="M230.94,78.06L242.72,74.10L233.38,67.05L221.60,71.01Z" fill="#f6df29" stroke="#222" stroke-width="0.6" stroke-linejoin="round"/><path transform="matrix(-11.6800,-8.8200,0.0000,-66.9000,143.792,168.855)" d="M5.100,0H5.900V0.7900H5.100Z" fill="url(#pz0)" stroke="#222" stroke-width="0.6" stroke-linejoin="round" vector-effect="non-scaling-stroke"/><path transform="matrix(14.7200,-4.9500,0.0000,-66.9000,68.032,129.318)" d="M1.100,0H1.900V0.7900H1.100Z" fill="url(#pz0)" stroke="#222" stroke-width="0.6" stroke-linejoin="round" vector-effect="non-scaling-stroke"/><path d="M84.22,71.02L96.00,67.06L86.66,60.01L74.88,63.97Z" fill="#f2ba38" stroke="#222" stroke-width="0.6" stroke-linejoin="round"/><path transform="matrix(-11.6800,-8.8200,0.0000,-66.9000,158.512,163.905)" d="M4.100,0H4.900V0.6500H4.100Z" fill="url(#pz0)" stroke="#222" stroke-width="0.6" stroke-linejoin="round" vector-effect="non-scaling-stroke"/><path transform="matrix(14.7200,-4.9500,0.0000,-66.9000,79.712,138.138)" d="M2.100,0H2.900V0.6500H2.100Z" fill="url(#pz0)" stroke="#222" stroke-width="0.6" stroke-linejoin="round" vector-effect="non-scaling-stroke"/><path d="M110.62,84.26L122.40,80.30L113.06,73.24L101.28,77.20Z" fill="#84cc56" stroke="#222" stroke-width="0.6" stroke-linejoin="round"/><path transform="matrix(-11.6800,-8.8200,0.0000,-66.9000,173.232,158.955)" d="M3.100,0H3.900V0.8450H3.100Z" fill="url(#pz0)" stroke="#222" stroke-width="0.6" stroke-linejoin="round" vector-effect="non-scaling-stroke"/><path transform="matrix(14.7200,-4.9500,0.0000,-66.9000,91.392,146.958)" d="M3.100,0H3.900V0.8450H3.100Z" fill="url(#pz0)" stroke="#222" stroke-width="0.6" stroke-linejoin="round" vector-effect="non-scaling-stroke"/><path d="M137.02,75.08L148.80,71.12L139.46,64.07L127.68,68.03Z" fill="#fec934" stroke="#222" stroke-width="0.6" stroke-linejoin="round"/><path transform="matrix(-11.6800,-8.8200,0.0000,-66.9000,187.952,154.005)" d="M2.100,0H2.900V0.5500H2.100Z" fill="url(#pz0)" stroke="#222" stroke-width="0.6" stroke-linejoin="round" vector-effect="non-scaling-stroke"/><path transform="matrix(14.7200,-4.9500,0.0000,-66.9000,103.072,155.778)" d="M4.100,0H4.900V0.5500H4.100Z" fill="url(#pz0)" stroke="#222" stroke-width="0.6" stroke-linejoin="round" vector-effect="non-scaling-stroke"/><path d="M163.42,98.69L175.20,94.73L165.86,87.67L154.08,91.63Z" fill="#36c799" stroke="#222" stroke-width="0.6" stroke-linejoin="round"/><path transform="matrix(-11.6800,-8.8200,0.0000,-66.9000,202.672,149.055)" d="M1.100,0H1.900V0.8000H1.100Z" fill="url(#pz0)" stroke="#222" stroke-width="0.6" stroke-linejoin="round" vector-effect="non-scaling-stroke"/><path transform="matrix(14.7200,-4.9500,0.0000,-66.9000,114.752,164.598)" d="M5.100,0H5.900V0.8000H5.100Z" fill="url(#pz0)" stroke="#222" stroke-width="0.6" stroke-linejoin="round" vector-effect="non-scaling-stroke"/><path d="M189.82,85.83L201.60,81.87L192.26,74.82L180.48,78.78Z" fill="#f8ba3d" stroke="#222" stroke-width="0.6" stroke-linejoin="round"/><path transform="matrix(-11.6800,-8.8200,0.0000,-66.9000,217.392,144.105)" d="M0.100,0H0.900V0.9400H0.100Z" fill="url(#pz0)" stroke="#222" stroke-width="0.6" stroke-linejoin="round" vector-effect="non-scaling-stroke"/><path transform="matrix(14.7200,-4.9500,0.0000,-66.9000,126.432,173.418)" d="M6.100,0H6.900V0.9400H6.100Z" fill="url(#pz0)" stroke="#222" stroke-width="0.6" stroke-linejoin="round" vector-effect="non-scaling-stroke"/><path d="M216.22,80.34L228.00,76.38L218.66,69.32L206.88,73.28Z" fill="#f6ef20" stroke="#222" stroke-width="0.6" stroke-linejoin="round"/><path transform="matrix(-11.6800,-8.8200,0.0000,-66.9000,129.072,173.805)" d="M5.100,0H5.900V0.9300H5.100Z" fill="url(#pz0)" stroke="#222" stroke-width="0.6" stroke-linejoin="round" vector-effect="non-scaling-stroke"/><path transform="matrix(14.7200,-4.9500,0.0000,-66.9000,68.032,129.318)" d="M0.100,0H0.900V0.9300H0.100Z" fill="url(#pz0)" stroke="#222" stroke-width="0.6" stroke-linejoin="round" vector-effect="non-scaling-stroke"/><path d="M69.50,66.61L81.28,62.65L71.94,55.59L60.16,59.55Z" fill="#f5eb23" stroke="#222" stroke-width="0.6" stroke-linejoin="round"/><path transform="matrix(-11.6800,-8.8200,0.0000,-66.9000,143.792,168.855)" d="M4.100,0H4.900V0.7500H4.100Z" fill="url(#pz0)" stroke="#222" stroke-width="0.6" stroke-linejoin="round" vector-effect="non-scaling-stroke"/><path transform="matrix(14.7200,-4.9500,0.0000,-66.9000,79.712,138.138)" d="M1.100,0H1.900V0.7500H1.100Z" fill="url(#pz0)" stroke="#222" stroke-width="0.6" stroke-linejoin="round" vector-effect="non-scaling-stroke"/><path d="M95.90,82.52L107.68,78.56L98.34,71.50L86.56,75.46Z" fill="#d9be28" stroke="#222" stroke-width="0.6" stroke-linejoin="round"/><path transform="matrix(-11.6800,-8.8200,0.0000,-66.9000,158.512,163.905)" d="M3.100,0H3.900V0.6800H3.100Z" fill="url(#pz0)" stroke="#222" stroke-width="0.6" stroke-linejoin="round" vector-effect="non-scaling-stroke"/><path transform="matrix(14.7200,-4.9500,0.0000,-66.9000,91.392,146.958)" d="M2.100,0H2.900V0.6800H2.100Z" fill="url(#pz0)" stroke="#222" stroke-width="0.6" stroke-linejoin="round" vector-effect="non-scaling-stroke"/><path d="M122.30,91.07L134.08,87.11L124.74,80.06L112.96,84.02Z" fill="#a0c841" stroke="#222" stroke-width="0.6" stroke-linejoin="round"/><path transform="matrix(-11.6800,-8.8200,0.0000,-66.9000,173.232,158.955)" d="M2.100,0H2.900V0.8500H2.100Z" fill="url(#pz0)" stroke="#222" stroke-width="0.6" stroke-linejoin="round" vector-effect="non-scaling-stroke"/><path transform="matrix(14.7200,-4.9500,0.0000,-66.9000,103.072,155.778)" d="M3.100,0H3.900V0.8500H3.100Z" fill="url(#pz0)" stroke="#222" stroke-width="0.6" stroke-linejoin="round" vector-effect="non-scaling-stroke"/><path d="M148.70,83.57L160.48,79.61L151.14,72.55L139.36,76.51Z" fill="#fdcb33" stroke="#222" stroke-width="0.6" stroke-linejoin="round"/><path transform="matrix(-11.6800,-8.8200,0.0000,-66.9000,187.952,154.005)" d="M1.100,0H1.900V0.6500H1.100Z" fill="url(#pz0)" stroke="#222" stroke-width="0.6" stroke-linejoin="round" vector-effect="non-scaling-stroke"/><path transform="matrix(14.7200,-4.9500,0.0000,-66.9000,114.752,164.598)" d="M4.100,0H4.900V0.6500H4.100Z" fill="url(#pz0)" stroke="#222" stroke-width="0.6" stroke-linejoin="round" vector-effect="non-scaling-stroke"/><path d="M175.10,100.82L186.88,96.86L177.54,89.80L165.76,93.76Z" fill="#84cc56" stroke="#222" stroke-width="0.6" stroke-linejoin="round"/><path transform="matrix(-11.6800,-8.8200,0.0000,-66.9000,202.672,149.055)" d="M0.100,0H0.900V0.9000H0.100Z" fill="url(#pz0)" stroke="#222" stroke-width="0.6" stroke-linejoin="round" vector-effect="non-scaling-stroke"/><path transform="matrix(14.7200,-4.9500,0.0000,-66.9000,126.432,173.418)" d="M5.100,0H5.900V0.9000H5.100Z" fill="url(#pz0)" stroke="#222" stroke-width="0.6" stroke-linejoin="round" vector-effect="non-scaling-stroke"/><path d="M201.50,87.96L213.28,84.00L203.94,76.95L192.16,80.91Z" fill="#f6df29" stroke="#222" stroke-width="0.6" stroke-linejoin="round"/><path transform="matrix(-11.6800,-8.8200,0.0000,-66.9000,129.072,173.805)" d="M4.100,0H4.900V0.9110H4.100Z" fill="url(#pz0)" stroke="#222" stroke-width="0.6" stroke-linejoin="round" vector-effect="non-scaling-stroke"/><path transform="matrix(14.7200,-4.9500,0.0000,-66.9000,79.712,138.138)" d="M0.100,0H0.900V0.9110H0.100Z" fill="url(#pz0)" stroke="#222" stroke-width="0.6" stroke-linejoin="round" vector-effect="non-scaling-stroke"/><path d="M81.18,76.70L92.96,72.74L83.62,65.68L71.84,69.64Z" fill="#f5e427" stroke="#222" stroke-width="0.6" stroke-linejoin="round"/><path transform="matrix(-11.6800,-8.8200,0.0000,-66.9000,143.792,168.855)" d="M3.100,0H3.900V0.7800H3.100Z" fill="url(#pz0)" stroke="#222" stroke-width="0.6" stroke-linejoin="round" vector-effect="non-scaling-stroke"/><path transform="matrix(14.7200,-4.9500,0.0000,-66.9000,91.392,146.958)" d="M1.100,0H1.900V0.7800H1.100Z" fill="url(#pz0)" stroke="#222" stroke-width="0.6" stroke-linejoin="round" vector-effect="non-scaling-stroke"/><path d="M107.58,89.33L119.36,85.37L110.02,78.31L98.24,82.28Z" fill="#ecba33" stroke="#222" stroke-width="0.6" stroke-linejoin="round"/><path transform="matrix(-11.6800,-8.8200,0.0000,-66.9000,158.512,163.905)" d="M2.100,0H2.900V0.6650H2.100Z" fill="url(#pz0)" stroke="#222" stroke-width="0.6" stroke-linejoin="round" vector-effect="non-scaling-stroke"/><path transform="matrix(14.7200,-4.9500,0.0000,-66.9000,103.072,155.778)" d="M2.100,0H2.900V0.6650H2.100Z" fill="url(#pz0)" stroke="#222" stroke-width="0.6" stroke-linejoin="round" vector-effect="non-scaling-stroke"/><path d="M133.98,100.89L145.76,96.93L136.42,89.88L124.64,93.84Z" fill="#92ca4c" stroke="#222" stroke-width="0.6" stroke-linejoin="round"/><path transform="matrix(-11.6800,-8.8200,0.0000,-66.9000,173.232,158.955)" d="M1.100,0H1.900V0.8060H1.100Z" fill="url(#pz0)" stroke="#222" stroke-width="0.6" stroke-linejoin="round" vector-effect="non-scaling-stroke"/><path transform="matrix(14.7200,-4.9500,0.0000,-66.9000,114.752,164.598)" d="M3.100,0H3.900V0.8060H3.100Z" fill="url(#pz0)" stroke="#222" stroke-width="0.6" stroke-linejoin="round" vector-effect="non-scaling-stroke"/><path d="M160.38,95.33L172.16,91.37L162.82,84.32L151.04,88.28Z" fill="#fabb3d" stroke="#222" stroke-width="0.6" stroke-linejoin="round"/><path transform="matrix(-11.6800,-8.8200,0.0000,-66.9000,187.952,154.005)" d="M0.100,0H0.900V0.7300H0.100Z" fill="url(#pz0)" stroke="#222" stroke-width="0.6" stroke-linejoin="round" vector-effect="non-scaling-stroke"/><path transform="matrix(14.7200,-4.9500,0.0000,-66.9000,126.432,173.418)" d="M4.100,0H4.900V0.7300H4.100Z" fill="url(#pz0)" stroke="#222" stroke-width="0.6" stroke-linejoin="round" vector-effect="non-scaling-stroke"/><path d="M186.78,104.29L198.56,100.33L189.22,93.27L177.44,97.23Z" fill="#cac129" stroke="#222" stroke-width="0.6" stroke-linejoin="round"/><path transform="matrix(-11.6800,-8.8200,0.0000,-66.9000,129.072,173.805)" d="M3.100,0H3.900V0.9180H3.100Z" fill="url(#pz0)" stroke="#222" stroke-width="0.6" stroke-linejoin="round" vector-effect="non-scaling-stroke"/><path transform="matrix(14.7200,-4.9500,0.0000,-66.9000,91.392,146.958)" d="M0.100,0H0.900V0.9180H0.100Z" fill="url(#pz0)" stroke="#222" stroke-width="0.6" stroke-linejoin="round" vector-effect="non-scaling-stroke"/><path d="M92.86,85.05L104.64,81.09L95.30,74.03L83.52,77.99Z" fill="#f5e725" stroke="#222" stroke-width="0.6" stroke-linejoin="round"/><path transform="matrix(-11.6800,-8.8200,0.0000,-66.9000,143.792,168.855)" d="M2.100,0H2.900V0.7800H2.100Z" fill="url(#pz0)" stroke="#222" stroke-width="0.6" stroke-linejoin="round" vector-effect="non-scaling-stroke"/><path transform="matrix(14.7200,-4.9500,0.0000,-66.9000,103.072,155.778)" d="M1.100,0H1.900V0.7800H1.100Z" fill="url(#pz0)" stroke="#222" stroke-width="0.6" stroke-linejoin="round" vector-effect="non-scaling-stroke"/><path d="M119.26,98.15L131.04,94.19L121.70,87.13L109.92,91.09Z" fill="#ecba33" stroke="#222" stroke-width="0.6" stroke-linejoin="round"/><path transform="matrix(-11.6800,-8.8200,0.0000,-66.9000,158.512,163.905)" d="M1.100,0H1.900V0.7200H1.100Z" fill="url(#pz0)" stroke="#222" stroke-width="0.6" stroke-linejoin="round" vector-effect="non-scaling-stroke"/><path transform="matrix(14.7200,-4.9500,0.0000,-66.9000,114.752,164.598)" d="M2.100,0H2.900V0.7200H2.100Z" fill="url(#pz0)" stroke="#222" stroke-width="0.6" stroke-linejoin="round" vector-effect="non-scaling-stroke"/><path d="M145.66,106.03L157.44,102.08L148.10,95.02L136.32,98.98Z" fill="#c2c22c" stroke="#222" stroke-width="0.6" stroke-linejoin="round"/><path transform="matrix(-11.6800,-8.8200,0.0000,-66.9000,173.232,158.955)" d="M0.100,0H0.900V0.9100H0.100Z" fill="url(#pz0)" stroke="#222" stroke-width="0.6" stroke-linejoin="round" vector-effect="non-scaling-stroke"/><path transform="matrix(14.7200,-4.9500,0.0000,-66.9000,126.432,173.418)" d="M3.100,0H3.900V0.9100H3.100Z" fill="url(#pz0)" stroke="#222" stroke-width="0.6" stroke-linejoin="round" vector-effect="non-scaling-stroke"/><path d="M172.06,97.19L183.84,93.23L174.50,86.18L162.72,90.14Z" fill="#f5e327" stroke="#222" stroke-width="0.6" stroke-linejoin="round"/><path transform="matrix(-11.6800,-8.8200,0.0000,-66.9000,129.072,173.805)" d="M2.100,0H2.900V0.9470H2.100Z" fill="url(#pz0)" stroke="#222" stroke-width="0.6" stroke-linejoin="round" vector-effect="non-scaling-stroke"/><path transform="matrix(14.7200,-4.9500,0.0000,-66.9000,103.072,155.778)" d="M0.100,0H0.900V0.9470H0.100Z" fill="url(#pz0)" stroke="#222" stroke-width="0.6" stroke-linejoin="round" vector-effect="non-scaling-stroke"/><path d="M104.54,91.93L116.32,87.97L106.98,80.91L95.20,84.87Z" fill="#f6f21e" stroke="#222" stroke-width="0.6" stroke-linejoin="round"/><path transform="matrix(-11.6800,-8.8200,0.0000,-66.9000,143.792,168.855)" d="M1.100,0H1.900V0.7200H1.100Z" fill="url(#pz0)" stroke="#222" stroke-width="0.6" stroke-linejoin="round" vector-effect="non-scaling-stroke"/><path transform="matrix(14.7200,-4.9500,0.0000,-66.9000,114.752,164.598)" d="M1.100,0H1.900V0.7200H1.100Z" fill="url(#pz0)" stroke="#222" stroke-width="0.6" stroke-linejoin="round" vector-effect="non-scaling-stroke"/><path d="M130.94,110.99L142.72,107.03L133.38,99.97L121.60,103.93Z" fill="#c2c22c" stroke="#222" stroke-width="0.6" stroke-linejoin="round"/><path transform="matrix(-11.6800,-8.8200,0.0000,-66.9000,158.512,163.905)" d="M0.100,0H0.900V0.8000H0.100Z" fill="url(#pz0)" stroke="#222" stroke-width="0.6" stroke-linejoin="round" vector-effect="non-scaling-stroke"/><path transform="matrix(14.7200,-4.9500,0.0000,-66.9000,126.432,173.418)" d="M2.100,0H2.900V0.8000H2.100Z" fill="url(#pz0)" stroke="#222" stroke-width="0.6" stroke-linejoin="round" vector-effect="non-scaling-stroke"/><path d="M157.34,109.50L169.12,105.54L159.78,98.49L148.00,102.45Z" fill="#f8ba3d" stroke="#222" stroke-width="0.6" stroke-linejoin="round"/><path transform="matrix(-11.6800,-8.8200,0.0000,-66.9000,129.072,173.805)" d="M1.100,0H1.900V0.9000H1.100Z" fill="url(#pz0)" stroke="#222" stroke-width="0.6" stroke-linejoin="round" vector-effect="non-scaling-stroke"/><path transform="matrix(14.7200,-4.9500,0.0000,-66.9000,114.752,164.598)" d="M0.100,0H0.900V0.9000H0.100Z" fill="url(#pz0)" stroke="#222" stroke-width="0.6" stroke-linejoin="round" vector-effect="non-scaling-stroke"/><path d="M116.22,103.89L128.00,99.93L118.66,92.88L106.88,96.84Z" fill="#f6df29" stroke="#222" stroke-width="0.6" stroke-linejoin="round"/><path transform="matrix(-11.6800,-8.8200,0.0000,-66.9000,143.792,168.855)" d="M0.100,0H0.900V0.8600H0.100Z" fill="url(#pz0)" stroke="#222" stroke-width="0.6" stroke-linejoin="round" vector-effect="non-scaling-stroke"/><path transform="matrix(14.7200,-4.9500,0.0000,-66.9000,126.432,173.418)" d="M1.100,0H1.900V0.8600H1.100Z" fill="url(#pz0)" stroke="#222" stroke-width="0.6" stroke-linejoin="round" vector-effect="non-scaling-stroke"/><path d="M142.62,110.44L154.40,106.48L145.06,99.42L133.28,103.38Z" fill="#fccf31" stroke="#222" stroke-width="0.6" stroke-linejoin="round"/><path transform="matrix(-11.6800,-8.8200,0.0000,-66.9000,129.072,173.805)" d="M0.100,0H0.900V0.9700H0.100Z" fill="url(#pz0)" stroke="#222" stroke-width="0.6" stroke-linejoin="round" vector-effect="non-scaling-stroke"/><path transform="matrix(14.7200,-4.9500,0.0000,-66.9000,126.432,173.418)" d="M0.100,0H0.900V0.9700H0.100Z" fill="url(#pz0)" stroke="#222" stroke-width="0.6" stroke-linejoin="round" vector-effect="non-scaling-stroke"/><path d="M127.90,108.03L139.68,104.07L130.34,97.01L118.56,100.97Z" fill="#f9fb15" stroke="#222" stroke-width="0.6" stroke-linejoin="round"/></g><g stroke="#262626" stroke-width="0.6" fill="none" stroke-linecap="square"><line x1="127.60" y1="174.30" x2="289.52" y2="119.85"/><line x1="127.60" y1="174.30" x2="57.52" y2="121.38"/><line x1="57.52" y1="121.38" x2="57.52" y2="54.48"/><line x1="134.96" y1="171.83" x2="137.88" y2="174.03"/><line x1="149.68" y1="166.88" x2="152.60" y2="169.08"/><line x1="164.40" y1="161.93" x2="167.32" y2="164.13"/><line x1="179.12" y1="156.98" x2="182.04" y2="159.18"/><line x1="193.84" y1="152.03" x2="196.76" y2="154.23"/><line x1="208.56" y1="147.08" x2="211.48" y2="149.28"/><line x1="223.28" y1="142.12" x2="226.20" y2="144.33"/><line x1="238.00" y1="137.18" x2="240.92" y2="139.38"/><line x1="252.72" y1="132.23" x2="255.64" y2="134.43"/><line x1="267.44" y1="127.28" x2="270.36" y2="129.48"/><line x1="282.16" y1="122.33" x2="285.08" y2="124.53"/><line x1="121.76" y1="169.89" x2="118.08" y2="171.13"/><line x1="110.08" y1="161.07" x2="106.40" y2="162.31"/><line x1="98.40" y1="152.25" x2="94.72" y2="153.49"/><line x1="86.72" y1="143.43" x2="83.04" y2="144.67"/><line x1="75.04" y1="134.61" x2="71.36" y2="135.85"/><line x1="63.36" y1="125.79" x2="59.68" y2="127.03"/><line x1="57.52" y1="121.38" x2="54.13" y2="118.82"/><line x1="57.52" y1="87.93" x2="54.13" y2="85.37"/><line x1="57.52" y1="54.48" x2="54.13" y2="51.92"/></g><g font-family="Liberation Sans, sans-serif" font-size="9.3" fill="#262626" stroke="#262626" stroke-width="0.12" opacity="0.995"><text x="140.08" y="179.98" transform="rotate(40 140.08 179.98)">Realism</text><text x="154.80" y="175.03" transform="rotate(40 154.80 175.03)">PostImpres.</text><text x="169.52" y="170.08" transform="rotate(40 169.52 170.08)">Neoclassicism</text><text x="184.24" y="165.13" transform="rotate(40 184.24 165.13)">Minimalism</text><text x="198.96" y="160.18" transform="rotate(40 198.96 160.18)">MagicRealism</text><text x="213.68" y="155.23" transform="rotate(40 213.68 155.23)">Impressionism</text><text x="228.40" y="150.28" transform="rotate(40 228.40 150.28)">Expressionism</text><text x="243.12" y="145.33" transform="rotate(40 243.12 145.33)">Cubism</text><text x="257.84" y="140.38" transform="rotate(40 257.84 140.38)">ColorFieldPain</text><text x="272.56" y="135.43" transform="rotate(40 272.56 135.43)">Abs.Expres.</text><text x="287.28" y="130.48" transform="rotate(40 287.28 130.48)">AbstractArt</text><text x="115.96" y="176.41" text-anchor="end" transform="rotate(-30 115.96 176.41)">Proposed</text><text x="104.28" y="167.59" text-anchor="end" transform="rotate(-30 104.28 167.59)">Proposed (no LABHO)</text><text x="92.60" y="158.77" text-anchor="end" transform="rotate(-30 92.60 158.77)">proposed (BHO only)</text><text x="80.92" y="149.95" text-anchor="end" transform="rotate(-30 80.92 149.95)">Mohammadi et al [26]</text><text x="69.24" y="141.13" text-anchor="end" transform="rotate(-30 69.24 141.13)">Yang [22]</text><text x="57.56" y="132.31" text-anchor="end" transform="rotate(-30 57.56 132.31)">Zhao et al [23]</text><text x="50.82" y="121.08" text-anchor="end">0</text><text x="50.82" y="87.63" text-anchor="end">0.5</text><text x="50.82" y="54.18" text-anchor="end">1</text><text x="31.32" y="87.98" text-anchor="middle" font-size="10.2" transform="rotate(-90 31.32 87.98)">Precision</text></g><g stroke="#dedede" stroke-width="0.5" fill="none"><line x1="417.12" y1="121.38" x2="579.04" y2="66.93"/><line x1="579.04" y1="66.93" x2="649.12" y2="119.85"/><line x1="417.12" y1="87.93" x2="579.04" y2="33.48"/><line x1="579.04" y1="33.48" x2="649.12" y2="86.40"/><line x1="417.12" y1="54.48" x2="579.04" y2="0.03"/><line x1="579.04" y1="0.03" x2="649.12" y2="52.95"/><line x1="424.48" y1="118.91" x2="424.48" y2="52.01"/><line x1="494.56" y1="171.83" x2="424.48" y2="118.91"/><line x1="439.20" y1="113.95" x2="439.20" y2="47.05"/><line x1="509.28" y1="166.88" x2="439.20" y2="113.95"/><line x1="453.92" y1="109.01" x2="453.92" y2="42.11"/><line x1="524.00" y1="161.93" x2="453.92" y2="109.01"/><line x1="468.64" y1="104.06" x2="468.64" y2="37.16"/><line x1="538.72" y1="156.98" x2="468.64" y2="104.06"/><line x1="483.36" y1="99.11" x2="483.36" y2="32.20"/><line x1="553.44" y1="152.03" x2="483.36" y2="99.11"/><line x1="498.08" y1="94.16" x2="498.08" y2="27.26"/><line x1="568.16" y1="147.08" x2="498.08" y2="94.16"/><line x1="512.80" y1="89.20" x2="512.80" y2="22.30"/><line x1="582.88" y1="142.12" x2="512.80" y2="89.20"/><line x1="527.52" y1="84.26" x2="527.52" y2="17.36"/><line x1="597.60" y1="137.18" x2="527.52" y2="84.26"/><line x1="542.24" y1="79.31" x2="542.24" y2="12.41"/><line x1="612.32" y1="132.23" x2="542.24" y2="79.31"/><line x1="556.96" y1="74.36" x2="556.96" y2="7.45"/><line x1="627.04" y1="127.28" x2="556.96" y2="74.36"/><line x1="571.68" y1="69.41" x2="571.68" y2="2.51"/><line x1="641.76" y1="122.33" x2="571.68" y2="69.41"/><line x1="643.28" y1="115.44" x2="643.28" y2="48.54"/><line x1="481.36" y1="169.89" x2="643.28" y2="115.44"/><line x1="631.60" y1="106.62" x2="631.60" y2="39.72"/><line x1="469.68" y1="161.07" x2="631.60" y2="106.62"/><line x1="619.92" y1="97.80" x2="619.92" y2="30.90"/><line x1="458.00" y1="152.25" x2="619.92" y2="97.80"/><line x1="608.24" y1="88.98" x2="608.24" y2="22.08"/><line x1="446.32" y1="143.43" x2="608.24" y2="88.98"/><line x1="596.56" y1="80.16" x2="596.56" y2="13.26"/><line x1="434.64" y1="134.61" x2="596.56" y2="80.16"/><line x1="584.88" y1="71.34" x2="584.88" y2="4.44"/><line x1="422.96" y1="125.79" x2="584.88" y2="71.34"/><line x1="579.04" y1="66.93" x2="579.04" y2="0.03"/><line x1="649.12" y1="119.85" x2="649.12" y2="52.95"/></g><g><path transform="matrix(-11.6800,-8.8200,0.0000,-66.9000,635.872,124.305)" d="M5.100,0H5.900V0.8500H5.100Z" fill="url(#pz1)" stroke="#222" stroke-width="0.6" stroke-linejoin="round" vector-effect="non-scaling-stroke"/><path transform="matrix(14.7200,-4.9500,0.0000,-66.9000,427.632,129.318)" d="M10.100,0H10.900V0.8500H10.100Z" fill="url(#pz1)" stroke="#222" stroke-width="0.6" stroke-linejoin="round" vector-effect="non-scaling-stroke"/><path d="M576.30,22.46L588.08,18.50L578.74,11.44L566.96,15.40Z" fill="#f5e427" stroke="#222" stroke-width="0.6" stroke-linejoin="round"/><path transform="matrix(-11.6800,-8.8200,0.0000,-66.9000,621.152,129.255)" d="M5.100,0H5.900V0.8500H5.100Z" fill="url(#pz1)" stroke="#222" stroke-width="0.6" stroke-linejoin="round" vector-effect="non-scaling-stroke"/><path transform="matrix(14.7200,-4.9500,0.0000,-66.9000,427.632,129.318)" d="M9.100,0H9.900V0.8500H9.100Z" fill="url(#pz1)" stroke="#222" stroke-width="0.6" stroke-linejoin="round" vector-effect="non-scaling-stroke"/><path d="M561.58,27.41L573.36,23.45L564.02,16.39L552.24,20.35Z" fill="#f5e427" stroke="#222" stroke-width="0.6" stroke-linejoin="round"/><path transform="matrix(-11.6800,-8.8200,0.0000,-66.9000,635.872,124.305)" d="M4.100,0H4.900V0.7630H4.100Z" fill="url(#pz1)" stroke="#222" stroke-width="0.6" stroke-linejoin="round" vector-effect="non-scaling-stroke"/><path transform="matrix(14.7200,-4.9500,0.0000,-66.9000,439.312,138.138)" d="M10.100,0H10.900V0.7630H10.100Z" fill="url(#pz1)" stroke="#222" stroke-width="0.6" stroke-linejoin="round" vector-effect="non-scaling-stroke"/><path d="M587.98,37.10L599.76,33.14L590.42,26.08L578.64,30.04Z" fill="#febe3c" stroke="#222" stroke-width="0.6" stroke-linejoin="round"/><path transform="matrix(-11.6800,-8.8200,0.0000,-66.9000,606.432,134.205)" d="M5.100,0H5.900V0.8500H5.100Z" fill="url(#pz1)" stroke="#222" stroke-width="0.6" stroke-linejoin="round" vector-effect="non-scaling-stroke"/><path transform="matrix(14.7200,-4.9500,0.0000,-66.9000,427.632,129.318)" d="M8.100,0H8.900V0.8500H8.100Z" fill="url(#pz1)" stroke="#222" stroke-width="0.6" stroke-linejoin="round" vector-effect="non-scaling-stroke"/><path d="M546.86,32.36L558.64,28.40L549.30,21.34L537.52,25.30Z" fill="#f5e427" stroke="#222" stroke-width="0.6" stroke-linejoin="round"/><path transform="matrix(-11.6800,-8.8200,0.0000,-66.9000,621.152,129.255)" d="M4.100,0H4.900V0.7930H4.100Z" fill="url(#pz1)" stroke="#222" stroke-width="0.6" stroke-linejoin="round" vector-effect="non-scaling-stroke"/><path transform="matrix(14.7200,-4.9500,0.0000,-66.9000,439.312,138.138)" d="M9.100,0H9.900V0.7930H9.100Z" fill="url(#pz1)" stroke="#222" stroke-width="0.6" stroke-linejoin="round" vector-effect="non-scaling-stroke"/><path d="M573.26,40.04L585.04,36.08L575.70,29.03L563.92,32.99Z" fill="#fdcb33" stroke="#222" stroke-width="0.6" stroke-linejoin="round"/><path transform="matrix(-11.6800,-8.8200,0.0000,-66.9000,635.872,124.305)" d="M3.100,0H3.900V0.8080H3.100Z" fill="url(#pz1)" stroke="#222" stroke-width="0.6" stroke-linejoin="round" vector-effect="non-scaling-stroke"/><path transform="matrix(14.7200,-4.9500,0.0000,-66.9000,450.992,146.958)" d="M10.100,0H10.900V0.8080H10.100Z" fill="url(#pz1)" stroke="#222" stroke-width="0.6" stroke-linejoin="round" vector-effect="non-scaling-stroke"/><path d="M599.66,42.91L611.44,38.95L602.10,31.89L590.32,35.85Z" fill="#fcd12f" stroke="#222" stroke-width="0.6" stroke-linejoin="round"/><path transform="matrix(-11.6800,-8.8200,0.0000,-66.9000,591.712,139.155)" d="M5.100,0H5.900V0.8500H5.100Z" fill="url(#pz1)" stroke="#222" stroke-width="0.6" stroke-linejoin="round" vector-effect="non-scaling-stroke"/><path transform="matrix(14.7200,-4.9500,0.0000,-66.9000,427.632,129.318)" d="M7.100,0H7.900V0.8500H7.100Z" fill="url(#pz1)" stroke="#222" stroke-width="0.6" stroke-linejoin="round" vector-effect="non-scaling-stroke"/><path d="M532.14,37.31L543.92,33.35L534.58,26.29L522.80,30.25Z" fill="#f5e427" stroke="#222" stroke-width="0.6" stroke-linejoin="round"/><path transform="matrix(-11.6800,-8.8200,0.0000,-66.9000,606.432,134.205)" d="M4.100,0H4.900V0.7700H4.100Z" fill="url(#pz1)" stroke="#222" stroke-width="0.6" stroke-linejoin="round" vector-effect="non-scaling-stroke"/><path transform="matrix(14.7200,-4.9500,0.0000,-66.9000,439.312,138.138)" d="M8.100,0H8.900V0.7700H8.100Z" fill="url(#pz1)" stroke="#222" stroke-width="0.6" stroke-linejoin="round" vector-effect="non-scaling-stroke"/><path d="M558.54,46.53L570.32,42.57L560.98,35.51L549.20,39.47Z" fill="#fec13a" stroke="#222" stroke-width="0.6" stroke-linejoin="round"/><path transform="matrix(-11.6800,-8.8200,0.0000,-66.9000,621.152,129.255)" d="M3.100,0H3.900V0.7950H3.100Z" fill="url(#pz1)" stroke="#222" stroke-width="0.6" stroke-linejoin="round" vector-effect="non-scaling-stroke"/><path transform="matrix(14.7200,-4.9500,0.0000,-66.9000,450.992,146.958)" d="M9.100,0H9.900V0.7950H9.100Z" fill="url(#pz1)" stroke="#222" stroke-width="0.6" stroke-linejoin="round" vector-effect="non-scaling-stroke"/><path d="M584.94,48.73L596.72,44.77L587.38,37.71L575.60,41.67Z" fill="#fdcb32" stroke="#222" stroke-width="0.6" stroke-linejoin="round"/><path transform="matrix(-11.6800,-8.8200,0.0000,-66.9000,635.872,124.305)" d="M2.100,0H2.900V0.8260H2.100Z" fill="url(#pz1)" stroke="#222" stroke-width="0.6" stroke-linejoin="round" vector-effect="non-scaling-stroke"/><path transform="matrix(14.7200,-4.9500,0.0000,-66.9000,462.672,155.778)" d="M10.100,0H10.900V0.8260H10.100Z" fill="url(#pz1)" stroke="#222" stroke-width="0.6" stroke-linejoin="round" vector-effect="non-scaling-stroke"/><path d="M611.34,50.52L623.12,46.56L613.78,39.51L602.00,43.47Z" fill="#f8d92b" stroke="#222" stroke-width="0.6" stroke-linejoin="round"/><path transform="matrix(-11.6800,-8.8200,0.0000,-66.9000,576.992,144.105)" d="M5.100,0H5.900V0.8500H5.100Z" fill="url(#pz1)" stroke="#222" stroke-width="0.6" stroke-linejoin="round" vector-effect="non-scaling-stroke"/><path transform="matrix(14.7200,-4.9500,0.0000,-66.9000,427.632,129.318)" d="M6.100,0H6.900V0.8500H6.100Z" fill="url(#pz1)" stroke="#222" stroke-width="0.6" stroke-linejoin="round" vector-effect="non-scaling-stroke"/><path d="M517.42,42.26L529.20,38.30L519.86,31.24L508.08,35.20Z" fill="#f5e427" stroke="#222" stroke-width="0.6" stroke-linejoin="round"/><path transform="matrix(-11.6800,-8.8200,0.0000,-66.9000,591.712,139.155)" d="M4.100,0H4.900V0.7840H4.100Z" fill="url(#pz1)" stroke="#222" stroke-width="0.6" stroke-linejoin="round" vector-effect="non-scaling-stroke"/><path transform="matrix(14.7200,-4.9500,0.0000,-66.9000,439.312,138.138)" d="M7.100,0H7.900V0.7840H7.100Z" fill="url(#pz1)" stroke="#222" stroke-width="0.6" stroke-linejoin="round" vector-effect="non-scaling-stroke"/><path d="M543.82,50.54L555.60,46.58L546.26,39.53L534.48,43.49Z" fill="#fec736" stroke="#222" stroke-width="0.6" stroke-linejoin="round"/><path transform="matrix(-11.6800,-8.8200,0.0000,-66.9000,606.432,134.205)" d="M3.100,0H3.900V0.8350H3.100Z" fill="url(#pz1)" stroke="#222" stroke-width="0.6" stroke-linejoin="round" vector-effect="non-scaling-stroke"/><path transform="matrix(14.7200,-4.9500,0.0000,-66.9000,450.992,146.958)" d="M8.100,0H8.900V0.8350H8.100Z" fill="url(#pz1)" stroke="#222" stroke-width="0.6" stroke-linejoin="round" vector-effect="non-scaling-stroke"/><path d="M570.22,51.00L582.00,47.04L572.66,39.99L560.88,43.95Z" fill="#f7dd2a" stroke="#222" stroke-width="0.6" stroke-linejoin="round"/><path transform="matrix(-11.6800,-8.8200,0.0000,-66.9000,621.152,129.255)" d="M2.100,0H2.900V0.8200H2.100Z" fill="url(#pz1)" stroke="#222" stroke-width="0.6" stroke-linejoin="round" vector-effect="non-scaling-stroke"/><path transform="matrix(14.7200,-4.9500,0.0000,-66.9000,462.672,155.778)" d="M9.100,0H9.900V0.8200H9.100Z" fill="url(#pz1)" stroke="#222" stroke-width="0.6" stroke-linejoin="round" vector-effect="non-scaling-stroke"/><path d="M596.62,55.87L608.40,51.92L599.06,44.86L587.28,48.82Z" fill="#f9d62d" stroke="#222" stroke-width="0.6" stroke-linejoin="round"/><path transform="matrix(-11.6800,-8.8200,0.0000,-66.9000,635.872,124.305)" d="M1.100,0H1.900V0.7800H1.100Z" fill="url(#pz1)" stroke="#222" stroke-width="0.6" stroke-linejoin="round" vector-effect="non-scaling-stroke"/><path transform="matrix(14.7200,-4.9500,0.0000,-66.9000,474.352,164.598)" d="M10.100,0H10.900V0.7800H10.100Z" fill="url(#pz1)" stroke="#222" stroke-width="0.6" stroke-linejoin="round" vector-effect="non-scaling-stroke"/><path d="M623.02,62.42L634.80,58.46L625.46,51.40L613.68,55.37Z" fill="#fec537" stroke="#222" stroke-width="0.6" stroke-linejoin="round"/><path transform="matrix(-11.6800,-8.8200,0.0000,-66.9000,562.272,149.055)" d="M5.100,0H5.900V0.8500H5.100Z" fill="url(#pz1)" stroke="#222" stroke-width="0.6" stroke-linejoin="round" vector-effect="non-scaling-stroke"/><path transform="matrix(14.7200,-4.9500,0.0000,-66.9000,427.632,129.318)" d="M5.100,0H5.900V0.8500H5.100Z" fill="url(#pz1)" stroke="#222" stroke-width="0.6" stroke-linejoin="round" vector-effect="non-scaling-stroke"/><path d="M502.70,47.21L514.48,43.25L505.14,36.19L493.36,40.15Z" fill="#f5e427" stroke="#222" stroke-width="0.6" stroke-linejoin="round"/><path transform="matrix(-11.6800,-8.8200,0.0000,-66.9000,576.992,144.105)" d="M4.100,0H4.900V0.7840H4.100Z" fill="url(#pz1)" stroke="#222" stroke-width="0.6" stroke-linejoin="round" vector-effect="non-scaling-stroke"/><path transform="matrix(14.7200,-4.9500,0.0000,-66.9000,439.312,138.138)" d="M6.100,0H6.900V0.7840H6.100Z" fill="url(#pz1)" stroke="#222" stroke-width="0.6" stroke-linejoin="round" vector-effect="non-scaling-stroke"/><path d="M529.10,55.49L540.88,51.53L531.54,44.48L519.76,48.44Z" fill="#fec736" stroke="#222" stroke-width="0.6" stroke-linejoin="round"/><path transform="matrix(-11.6800,-8.8200,0.0000,-66.9000,591.712,139.155)" d="M3.100,0H3.900V0.8200H3.100Z" fill="url(#pz1)" stroke="#222" stroke-width="0.6" stroke-linejoin="round" vector-effect="non-scaling-stroke"/><path transform="matrix(14.7200,-4.9500,0.0000,-66.9000,450.992,146.958)" d="M7.100,0H7.900V0.8200H7.100Z" fill="url(#pz1)" stroke="#222" stroke-width="0.6" stroke-linejoin="round" vector-effect="non-scaling-stroke"/><path d="M555.50,56.96L567.28,52.99L557.94,45.94L546.16,49.90Z" fill="#f9d62d" stroke="#222" stroke-width="0.6" stroke-linejoin="round"/><path transform="matrix(-11.6800,-8.8200,0.0000,-66.9000,606.432,134.205)" d="M2.100,0H2.900V0.8200H2.100Z" fill="url(#pz1)" stroke="#222" stroke-width="0.6" stroke-linejoin="round" vector-effect="non-scaling-stroke"/><path transform="matrix(14.7200,-4.9500,0.0000,-66.9000,462.672,155.778)" d="M8.100,0H8.900V0.8200H8.100Z" fill="url(#pz1)" stroke="#222" stroke-width="0.6" stroke-linejoin="round" vector-effect="non-scaling-stroke"/><path d="M581.90,60.83L593.68,56.86L584.34,49.81L572.56,53.77Z" fill="#f9d62d" stroke="#222" stroke-width="0.6" stroke-linejoin="round"/><path transform="matrix(-11.6800,-8.8200,0.0000,-66.9000,621.152,129.255)" d="M1.100,0H1.900V0.7600H1.100Z" fill="url(#pz1)" stroke="#222" stroke-width="0.6" stroke-linejoin="round" vector-effect="non-scaling-stroke"/><path transform="matrix(14.7200,-4.9500,0.0000,-66.9000,474.352,164.598)" d="M9.100,0H9.900V0.7600H9.100Z" fill="url(#pz1)" stroke="#222" stroke-width="0.6" stroke-linejoin="round" vector-effect="non-scaling-stroke"/><path d="M608.30,68.71L620.08,64.75L610.74,57.69L598.96,61.65Z" fill="#fdbd3d" stroke="#222" stroke-width="0.6" stroke-linejoin="round"/><path transform="matrix(-11.6800,-8.8200,0.0000,-66.9000,635.872,124.305)" d="M0.100,0H0.900V0.8950H0.100Z" fill="url(#pz1)" stroke="#222" stroke-width="0.6" stroke-linejoin="round" vector-effect="non-scaling-stroke"/><path transform="matrix(14.7200,-4.9500,0.0000,-66.9000,486.032,173.418)" d="M10.100,0H10.900V0.8950H10.100Z" fill="url(#pz1)" stroke="#222" stroke-width="0.6" stroke-linejoin="round" vector-effect="non-scaling-stroke"/><path d="M634.70,63.55L646.48,59.59L637.14,52.53L625.36,56.49Z" fill="#f8f719" stroke="#222" stroke-width="0.6" stroke-linejoin="round"/><path transform="matrix(-11.6800,-8.8200,0.0000,-66.9000,547.552,154.005)" d="M5.100,0H5.900V0.8500H5.100Z" fill="url(#pz1)" stroke="#222" stroke-width="0.6" stroke-linejoin="round" vector-effect="non-scaling-stroke"/><path transform="matrix(14.7200,-4.9500,0.0000,-66.9000,427.632,129.318)" d="M4.100,0H4.900V0.8500H4.100Z" fill="url(#pz1)" stroke="#222" stroke-width="0.6" stroke-linejoin="round" vector-effect="non-scaling-stroke"/><path d="M487.98,52.16L499.76,48.20L490.42,41.14L478.64,45.10Z" fill="#f5e427" stroke="#222" stroke-width="0.6" stroke-linejoin="round"/><path transform="matrix(-11.6800,-8.8200,0.0000,-66.9000,562.272,149.055)" d="M4.100,0H4.900V0.7750H4.100Z" fill="url(#pz1)" stroke="#222" stroke-width="0.6" stroke-linejoin="round" vector-effect="non-scaling-stroke"/><path transform="matrix(14.7200,-4.9500,0.0000,-66.9000,439.312,138.138)" d="M5.100,0H5.900V0.7750H5.100Z" fill="url(#pz1)" stroke="#222" stroke-width="0.6" stroke-linejoin="round" vector-effect="non-scaling-stroke"/><path d="M514.38,61.05L526.16,57.09L516.82,50.03L505.04,53.99Z" fill="#fec338" stroke="#222" stroke-width="0.6" stroke-linejoin="round"/><path transform="matrix(-11.6800,-8.8200,0.0000,-66.9000,576.992,144.105)" d="M3.100,0H3.900V0.8100H3.100Z" fill="url(#pz1)" stroke="#222" stroke-width="0.6" stroke-linejoin="round" vector-effect="non-scaling-stroke"/><path transform="matrix(14.7200,-4.9500,0.0000,-66.9000,450.992,146.958)" d="M6.100,0H6.900V0.8100H6.100Z" fill="url(#pz1)" stroke="#222" stroke-width="0.6" stroke-linejoin="round" vector-effect="non-scaling-stroke"/><path d="M540.78,62.57L552.56,58.61L543.22,51.56L531.44,55.52Z" fill="#fbd22f" stroke="#222" stroke-width="0.6" stroke-linejoin="round"/><path transform="matrix(-11.6800,-8.8200,0.0000,-66.9000,591.712,139.155)" d="M2.100,0H2.900V0.8250H2.100Z" fill="url(#pz1)" stroke="#222" stroke-width="0.6" stroke-linejoin="round" vector-effect="non-scaling-stroke"/><path transform="matrix(14.7200,-4.9500,0.0000,-66.9000,462.672,155.778)" d="M7.100,0H7.900V0.8250H7.100Z" fill="url(#pz1)" stroke="#222" stroke-width="0.6" stroke-linejoin="round" vector-effect="non-scaling-stroke"/><path d="M567.18,65.44L578.96,61.48L569.62,54.42L557.84,58.38Z" fill="#f8d92c" stroke="#222" stroke-width="0.6" stroke-linejoin="round"/><path transform="matrix(-11.6800,-8.8200,0.0000,-66.9000,606.432,134.205)" d="M1.100,0H1.900V0.7800H1.100Z" fill="url(#pz1)" stroke="#222" stroke-width="0.6" stroke-linejoin="round" vector-effect="non-scaling-stroke"/><path transform="matrix(14.7200,-4.9500,0.0000,-66.9000,474.352,164.598)" d="M8.100,0H8.900V0.7800H8.100Z" fill="url(#pz1)" stroke="#222" stroke-width="0.6" stroke-linejoin="round" vector-effect="non-scaling-stroke"/><path d="M593.58,72.32L605.36,68.36L596.02,61.30L584.24,65.27Z" fill="#fec537" stroke="#222" stroke-width="0.6" stroke-linejoin="round"/><path transform="matrix(-11.6800,-8.8200,0.0000,-66.9000,621.152,129.255)" d="M0.100,0H0.900V0.8980H0.100Z" fill="url(#pz1)" stroke="#222" stroke-width="0.6" stroke-linejoin="round" vector-effect="non-scaling-stroke"/><path transform="matrix(14.7200,-4.9500,0.0000,-66.9000,486.032,173.418)" d="M9.100,0H9.900V0.8980H9.100Z" fill="url(#pz1)" stroke="#222" stroke-width="0.6" stroke-linejoin="round" vector-effect="non-scaling-stroke"/><path d="M619.98,68.30L631.76,64.34L622.42,57.28L610.64,61.24Z" fill="#f8f818" stroke="#222" stroke-width="0.6" stroke-linejoin="round"/><path transform="matrix(-11.6800,-8.8200,0.0000,-66.9000,532.832,158.955)" d="M5.100,0H5.900V0.8350H5.100Z" fill="url(#pz1)" stroke="#222" stroke-width="0.6" stroke-linejoin="round" vector-effect="non-scaling-stroke"/><path transform="matrix(14.7200,-4.9500,0.0000,-66.9000,427.632,129.318)" d="M3.100,0H3.900V0.8350H3.100Z" fill="url(#pz1)" stroke="#222" stroke-width="0.6" stroke-linejoin="round" vector-effect="non-scaling-stroke"/><path d="M473.26,58.11L485.04,54.15L475.70,47.10L463.92,51.06Z" fill="#f7dd2a" stroke="#222" stroke-width="0.6" stroke-linejoin="round"/><path transform="matrix(-11.6800,-8.8200,0.0000,-66.9000,547.552,154.005)" d="M4.100,0H4.900V0.7540H4.100Z" fill="url(#pz1)" stroke="#222" stroke-width="0.6" stroke-linejoin="round" vector-effect="non-scaling-stroke"/><path transform="matrix(14.7200,-4.9500,0.0000,-66.9000,439.312,138.138)" d="M4.100,0H4.900V0.7540H4.100Z" fill="url(#pz1)" stroke="#222" stroke-width="0.6" stroke-linejoin="round" vector-effect="non-scaling-stroke"/><path d="M499.66,67.40L511.44,63.44L502.10,56.38L490.32,60.34Z" fill="#fbbc3d" stroke="#222" stroke-width="0.6" stroke-linejoin="round"/><path transform="matrix(-11.6800,-8.8200,0.0000,-66.9000,562.272,149.055)" d="M3.100,0H3.900V0.8100H3.100Z" fill="url(#pz1)" stroke="#222" stroke-width="0.6" stroke-linejoin="round" vector-effect="non-scaling-stroke"/><path transform="matrix(14.7200,-4.9500,0.0000,-66.9000,450.992,146.958)" d="M5.100,0H5.900V0.8100H5.100Z" fill="url(#pz1)" stroke="#222" stroke-width="0.6" stroke-linejoin="round" vector-effect="non-scaling-stroke"/><path d="M526.06,67.52L537.84,63.56L528.50,56.51L516.72,60.47Z" fill="#fbd22f" stroke="#222" stroke-width="0.6" stroke-linejoin="round"/><path transform="matrix(-11.6800,-8.8200,0.0000,-66.9000,576.992,144.105)" d="M2.100,0H2.900V0.8300H2.100Z" fill="url(#pz1)" stroke="#222" stroke-width="0.6" stroke-linejoin="round" vector-effect="non-scaling-stroke"/><path transform="matrix(14.7200,-4.9500,0.0000,-66.9000,462.672,155.778)" d="M6.100,0H6.900V0.8300H6.100Z" fill="url(#pz1)" stroke="#222" stroke-width="0.6" stroke-linejoin="round" vector-effect="non-scaling-stroke"/><path d="M552.46,70.06L564.24,66.10L554.90,59.04L543.12,63.00Z" fill="#f7db2b" stroke="#222" stroke-width="0.6" stroke-linejoin="round"/><path transform="matrix(-11.6800,-8.8200,0.0000,-66.9000,591.712,139.155)" d="M1.100,0H1.900V0.7750H1.100Z" fill="url(#pz1)" stroke="#222" stroke-width="0.6" stroke-linejoin="round" vector-effect="non-scaling-stroke"/><path transform="matrix(14.7200,-4.9500,0.0000,-66.9000,474.352,164.598)" d="M7.100,0H7.900V0.7750H7.100Z" fill="url(#pz1)" stroke="#222" stroke-width="0.6" stroke-linejoin="round" vector-effect="non-scaling-stroke"/><path d="M578.86,77.61L590.64,73.65L581.30,66.59L569.52,70.55Z" fill="#fec338" stroke="#222" stroke-width="0.6" stroke-linejoin="round"/><path transform="matrix(-11.6800,-8.8200,0.0000,-66.9000,606.432,134.205)" d="M0.100,0H0.900V0.9020H0.100Z" fill="url(#pz1)" stroke="#222" stroke-width="0.6" stroke-linejoin="round" vector-effect="non-scaling-stroke"/><path transform="matrix(14.7200,-4.9500,0.0000,-66.9000,486.032,173.418)" d="M8.100,0H8.900V0.9020H8.100Z" fill="url(#pz1)" stroke="#222" stroke-width="0.6" stroke-linejoin="round" vector-effect="non-scaling-stroke"/><path d="M605.26,72.98L617.04,69.02L607.70,61.96L595.92,65.92Z" fill="#f9fa16" stroke="#222" stroke-width="0.6" stroke-linejoin="round"/><path transform="matrix(-11.6800,-8.8200,0.0000,-66.9000,518.112,163.905)" d="M5.100,0H5.900V0.8300H5.100Z" fill="url(#pz1)" stroke="#222" stroke-width="0.6" stroke-linejoin="round" vector-effect="non-scaling-stroke"/><path transform="matrix(14.7200,-4.9500,0.0000,-66.9000,427.632,129.318)" d="M2.100,0H2.900V0.8300H2.100Z" fill="url(#pz1)" stroke="#222" stroke-width="0.6" stroke-linejoin="round" vector-effect="non-scaling-stroke"/><path d="M458.54,63.40L470.32,59.44L460.98,52.38L449.20,56.34Z" fill="#f7db2b" stroke="#222" stroke-width="0.6" stroke-linejoin="round"/><path transform="matrix(-11.6800,-8.8200,0.0000,-66.9000,532.832,158.955)" d="M4.100,0H4.900V0.7800H4.100Z" fill="url(#pz1)" stroke="#222" stroke-width="0.6" stroke-linejoin="round" vector-effect="non-scaling-stroke"/><path transform="matrix(14.7200,-4.9500,0.0000,-66.9000,439.312,138.138)" d="M3.100,0H3.900V0.7800H3.100Z" fill="url(#pz1)" stroke="#222" stroke-width="0.6" stroke-linejoin="round" vector-effect="non-scaling-stroke"/><path d="M484.94,70.61L496.72,66.65L487.38,59.59L475.60,63.55Z" fill="#fec537" stroke="#222" stroke-width="0.6" stroke-linejoin="round"/><path transform="matrix(-11.6800,-8.8200,0.0000,-66.9000,547.552,154.005)" d="M3.100,0H3.900V0.8100H3.100Z" fill="url(#pz1)" stroke="#222" stroke-width="0.6" stroke-linejoin="round" vector-effect="non-scaling-stroke"/><path transform="matrix(14.7200,-4.9500,0.0000,-66.9000,450.992,146.958)" d="M4.100,0H4.900V0.8100H4.100Z" fill="url(#pz1)" stroke="#222" stroke-width="0.6" stroke-linejoin="round" vector-effect="non-scaling-stroke"/><path d="M511.34,72.47L523.12,68.51L513.78,61.46L502.00,65.42Z" fill="#fbd22f" stroke="#222" stroke-width="0.6" stroke-linejoin="round"/><path transform="matrix(-11.6800,-8.8200,0.0000,-66.9000,562.272,149.055)" d="M2.100,0H2.900V0.8300H2.100Z" fill="url(#pz1)" stroke="#222" stroke-width="0.6" stroke-linejoin="round" vector-effect="non-scaling-stroke"/><path transform="matrix(14.7200,-4.9500,0.0000,-66.9000,462.672,155.778)" d="M5.100,0H5.900V0.8300H5.100Z" fill="url(#pz1)" stroke="#222" stroke-width="0.6" stroke-linejoin="round" vector-effect="non-scaling-stroke"/><path d="M537.74,75.01L549.52,71.05L540.18,63.99L528.40,67.95Z" fill="#f7db2b" stroke="#222" stroke-width="0.6" stroke-linejoin="round"/><path transform="matrix(-11.6800,-8.8200,0.0000,-66.9000,576.992,144.105)" d="M1.100,0H1.900V0.7750H1.100Z" fill="url(#pz1)" stroke="#222" stroke-width="0.6" stroke-linejoin="round" vector-effect="non-scaling-stroke"/><path transform="matrix(14.7200,-4.9500,0.0000,-66.9000,474.352,164.598)" d="M6.100,0H6.900V0.7750H6.100Z" fill="url(#pz1)" stroke="#222" stroke-width="0.6" stroke-linejoin="round" vector-effect="non-scaling-stroke"/><path d="M564.14,82.56L575.92,78.60L566.58,71.54L554.80,75.50Z" fill="#fec338" stroke="#222" stroke-width="0.6" stroke-linejoin="round"/><path transform="matrix(-11.6800,-8.8200,0.0000,-66.9000,591.712,139.155)" d="M0.100,0H0.900V0.8700H0.100Z" fill="url(#pz1)" stroke="#222" stroke-width="0.6" stroke-linejoin="round" vector-effect="non-scaling-stroke"/><path transform="matrix(14.7200,-4.9500,0.0000,-66.9000,486.032,173.418)" d="M7.100,0H7.900V0.8700H7.100Z" fill="url(#pz1)" stroke="#222" stroke-width="0.6" stroke-linejoin="round" vector-effect="non-scaling-stroke"/><path d="M590.54,80.07L602.32,76.11L592.98,69.05L581.20,73.01Z" fill="#f5ec22" stroke="#222" stroke-width="0.6" stroke-linejoin="round"/><path transform="matrix(-11.6800,-8.8200,0.0000,-66.9000,503.392,168.855)" d="M5.100,0H5.900V0.8400H5.100Z" fill="url(#pz1)" stroke="#222" stroke-width="0.6" stroke-linejoin="round" vector-effect="non-scaling-stroke"/><path transform="matrix(14.7200,-4.9500,0.0000,-66.9000,427.632,129.318)" d="M1.100,0H1.900V0.8400H1.100Z" fill="url(#pz1)" stroke="#222" stroke-width="0.6" stroke-linejoin="round" vector-effect="non-scaling-stroke"/><path d="M443.82,67.68L455.60,63.72L446.26,56.66L434.48,60.62Z" fill="#f6df29" stroke="#222" stroke-width="0.6" stroke-linejoin="round"/><path transform="matrix(-11.6800,-8.8200,0.0000,-66.9000,518.112,163.905)" d="M4.100,0H4.900V0.7770H4.100Z" fill="url(#pz1)" stroke="#222" stroke-width="0.6" stroke-linejoin="round" vector-effect="non-scaling-stroke"/><path transform="matrix(14.7200,-4.9500,0.0000,-66.9000,439.312,138.138)" d="M2.100,0H2.900V0.7770H2.100Z" fill="url(#pz1)" stroke="#222" stroke-width="0.6" stroke-linejoin="round" vector-effect="non-scaling-stroke"/><path d="M470.22,75.76L482.00,71.80L472.66,64.75L460.88,68.71Z" fill="#fec438" stroke="#222" stroke-width="0.6" stroke-linejoin="round"/><path transform="matrix(-11.6800,-8.8200,0.0000,-66.9000,532.832,158.955)" d="M3.100,0H3.900V0.8100H3.100Z" fill="url(#pz1)" stroke="#222" stroke-width="0.6" stroke-linejoin="round" vector-effect="non-scaling-stroke"/><path transform="matrix(14.7200,-4.9500,0.0000,-66.9000,450.992,146.958)" d="M3.100,0H3.900V0.8100H3.100Z" fill="url(#pz1)" stroke="#222" stroke-width="0.6" stroke-linejoin="round" vector-effect="non-scaling-stroke"/><path d="M496.62,77.42L508.40,73.46L499.06,66.41L487.28,70.37Z" fill="#fbd22f" stroke="#222" stroke-width="0.6" stroke-linejoin="round"/><path transform="matrix(-11.6800,-8.8200,0.0000,-66.9000,547.552,154.005)" d="M2.100,0H2.900V0.8400H2.100Z" fill="url(#pz1)" stroke="#222" stroke-width="0.6" stroke-linejoin="round" vector-effect="non-scaling-stroke"/><path transform="matrix(14.7200,-4.9500,0.0000,-66.9000,462.672,155.778)" d="M4.100,0H4.900V0.8400H4.100Z" fill="url(#pz1)" stroke="#222" stroke-width="0.6" stroke-linejoin="round" vector-effect="non-scaling-stroke"/><path d="M523.02,79.29L534.80,75.33L525.46,68.27L513.68,72.23Z" fill="#f6df29" stroke="#222" stroke-width="0.6" stroke-linejoin="round"/><path transform="matrix(-11.6800,-8.8200,0.0000,-66.9000,562.272,149.055)" d="M1.100,0H1.900V0.7750H1.100Z" fill="url(#pz1)" stroke="#222" stroke-width="0.6" stroke-linejoin="round" vector-effect="non-scaling-stroke"/><path transform="matrix(14.7200,-4.9500,0.0000,-66.9000,474.352,164.598)" d="M5.100,0H5.900V0.7750H5.100Z" fill="url(#pz1)" stroke="#222" stroke-width="0.6" stroke-linejoin="round" vector-effect="non-scaling-stroke"/><path d="M549.42,87.51L561.20,83.55L551.86,76.49L540.08,80.45Z" fill="#fec338" stroke="#222" stroke-width="0.6" stroke-linejoin="round"/><path transform="matrix(-11.6800,-8.8200,0.0000,-66.9000,576.992,144.105)" d="M0.100,0H0.900V0.8850H0.100Z" fill="url(#pz1)" stroke="#222" stroke-width="0.6" stroke-linejoin="round" vector-effect="non-scaling-stroke"/><path transform="matrix(14.7200,-4.9500,0.0000,-66.9000,486.032,173.418)" d="M6.100,0H6.900V0.8850H6.100Z" fill="url(#pz1)" stroke="#222" stroke-width="0.6" stroke-linejoin="round" vector-effect="non-scaling-stroke"/><path d="M575.82,84.02L587.60,80.06L578.26,73.00L566.48,76.96Z" fill="#f6f31d" stroke="#222" stroke-width="0.6" stroke-linejoin="round"/><path transform="matrix(-11.6800,-8.8200,0.0000,-66.9000,488.672,173.805)" d="M5.100,0H5.900V0.8350H5.100Z" fill="url(#pz1)" stroke="#222" stroke-width="0.6" stroke-linejoin="round" vector-effect="non-scaling-stroke"/><path transform="matrix(14.7200,-4.9500,0.0000,-66.9000,427.632,129.318)" d="M0.100,0H0.900V0.8350H0.100Z" fill="url(#pz1)" stroke="#222" stroke-width="0.6" stroke-linejoin="round" vector-effect="non-scaling-stroke"/><path d="M429.10,72.96L440.88,69.00L431.54,61.95L419.76,65.91Z" fill="#f7dd2a" stroke="#222" stroke-width="0.6" stroke-linejoin="round"/><path transform="matrix(-11.6800,-8.8200,0.0000,-66.9000,503.392,168.855)" d="M4.100,0H4.900V0.7900H4.100Z" fill="url(#pz1)" stroke="#222" stroke-width="0.6" stroke-linejoin="round" vector-effect="non-scaling-stroke"/><path transform="matrix(14.7200,-4.9500,0.0000,-66.9000,439.312,138.138)" d="M1.100,0H1.900V0.7900H1.100Z" fill="url(#pz1)" stroke="#222" stroke-width="0.6" stroke-linejoin="round" vector-effect="non-scaling-stroke"/><path d="M455.50,79.84L467.28,75.88L457.94,68.83L446.16,72.79Z" fill="#fec934" stroke="#222" stroke-width="0.6" stroke-linejoin="round"/><path transform="matrix(-11.6800,-8.8200,0.0000,-66.9000,518.112,163.905)" d="M3.100,0H3.900V0.8150H3.100Z" fill="url(#pz1)" stroke="#222" stroke-width="0.6" stroke-linejoin="round" vector-effect="non-scaling-stroke"/><path transform="matrix(14.7200,-4.9500,0.0000,-66.9000,450.992,146.958)" d="M2.100,0H2.900V0.8150H2.100Z" fill="url(#pz1)" stroke="#222" stroke-width="0.6" stroke-linejoin="round" vector-effect="non-scaling-stroke"/><path d="M481.90,82.04L493.68,78.08L484.34,71.02L472.56,74.98Z" fill="#fad42e" stroke="#222" stroke-width="0.6" stroke-linejoin="round"/><path transform="matrix(-11.6800,-8.8200,0.0000,-66.9000,532.832,158.955)" d="M2.100,0H2.900V0.8500H2.100Z" fill="url(#pz1)" stroke="#222" stroke-width="0.6" stroke-linejoin="round" vector-effect="non-scaling-stroke"/><path transform="matrix(14.7200,-4.9500,0.0000,-66.9000,462.672,155.778)" d="M3.100,0H3.900V0.8500H3.100Z" fill="url(#pz1)" stroke="#222" stroke-width="0.6" stroke-linejoin="round" vector-effect="non-scaling-stroke"/><path d="M508.30,83.57L520.08,79.61L510.74,72.55L498.96,76.51Z" fill="#f5e427" stroke="#222" stroke-width="0.6" stroke-linejoin="round"/><path transform="matrix(-11.6800,-8.8200,0.0000,-66.9000,547.552,154.005)" d="M1.100,0H1.900V0.7750H1.100Z" fill="url(#pz1)" stroke="#222" stroke-width="0.6" stroke-linejoin="round" vector-effect="non-scaling-stroke"/><path transform="matrix(14.7200,-4.9500,0.0000,-66.9000,474.352,164.598)" d="M4.100,0H4.900V0.7750H4.100Z" fill="url(#pz1)" stroke="#222" stroke-width="0.6" stroke-linejoin="round" vector-effect="non-scaling-stroke"/><path d="M534.70,92.46L546.48,88.50L537.14,81.44L525.36,85.40Z" fill="#fec338" stroke="#222" stroke-width="0.6" stroke-linejoin="round"/><path transform="matrix(-11.6800,-8.8200,0.0000,-66.9000,562.272,149.055)" d="M0.100,0H0.900V0.8850H0.100Z" fill="url(#pz1)" stroke="#222" stroke-width="0.6" stroke-linejoin="round" vector-effect="non-scaling-stroke"/><path transform="matrix(14.7200,-4.9500,0.0000,-66.9000,486.032,173.418)" d="M5.100,0H5.900V0.8850H5.100Z" fill="url(#pz1)" stroke="#222" stroke-width="0.6" stroke-linejoin="round" vector-effect="non-scaling-stroke"/><path d="M561.10,88.97L572.88,85.01L563.54,77.95L551.76,81.91Z" fill="#f6f31d" stroke="#222" stroke-width="0.6" stroke-linejoin="round"/><path transform="matrix(-11.6800,-8.8200,0.0000,-66.9000,488.672,173.805)" d="M4.100,0H4.900V0.7800H4.100Z" fill="url(#pz1)" stroke="#222" stroke-width="0.6" stroke-linejoin="round" vector-effect="non-scaling-stroke"/><path transform="matrix(14.7200,-4.9500,0.0000,-66.9000,439.312,138.138)" d="M0.100,0H0.900V0.7800H0.100Z" fill="url(#pz1)" stroke="#222" stroke-width="0.6" stroke-linejoin="round" vector-effect="non-scaling-stroke"/><path d="M440.78,85.46L452.56,81.50L443.22,74.44L431.44,78.40Z" fill="#fec537" stroke="#222" stroke-width="0.6" stroke-linejoin="round"/><path transform="matrix(-11.6800,-8.8200,0.0000,-66.9000,503.392,168.855)" d="M3.100,0H3.900V0.8150H3.100Z" fill="url(#pz1)" stroke="#222" stroke-width="0.6" stroke-linejoin="round" vector-effect="non-scaling-stroke"/><path transform="matrix(14.7200,-4.9500,0.0000,-66.9000,450.992,146.958)" d="M1.100,0H1.900V0.8150H1.100Z" fill="url(#pz1)" stroke="#222" stroke-width="0.6" stroke-linejoin="round" vector-effect="non-scaling-stroke"/><path d="M467.18,86.99L478.96,83.03L469.62,75.97L457.84,79.93Z" fill="#fad42e" stroke="#222" stroke-width="0.6" stroke-linejoin="round"/><path transform="matrix(-11.6800,-8.8200,0.0000,-66.9000,518.112,163.905)" d="M2.100,0H2.900V0.8500H2.100Z" fill="url(#pz1)" stroke="#222" stroke-width="0.6" stroke-linejoin="round" vector-effect="non-scaling-stroke"/><path transform="matrix(14.7200,-4.9500,0.0000,-66.9000,462.672,155.778)" d="M2.100,0H2.900V0.8500H2.100Z" fill="url(#pz1)" stroke="#222" stroke-width="0.6" stroke-linejoin="round" vector-effect="non-scaling-stroke"/><path d="M493.58,88.52L505.36,84.56L496.02,77.50L484.24,81.46Z" fill="#f5e427" stroke="#222" stroke-width="0.6" stroke-linejoin="round"/><path transform="matrix(-11.6800,-8.8200,0.0000,-66.9000,532.832,158.955)" d="M1.100,0H1.900V0.7750H1.100Z" fill="url(#pz1)" stroke="#222" stroke-width="0.6" stroke-linejoin="round" vector-effect="non-scaling-stroke"/><path transform="matrix(14.7200,-4.9500,0.0000,-66.9000,474.352,164.598)" d="M3.100,0H3.900V0.7750H3.100Z" fill="url(#pz1)" stroke="#222" stroke-width="0.6" stroke-linejoin="round" vector-effect="non-scaling-stroke"/><path d="M519.98,97.41L531.76,93.45L522.42,86.39L510.64,90.35Z" fill="#fec338" stroke="#222" stroke-width="0.6" stroke-linejoin="round"/><path transform="matrix(-11.6800,-8.8200,0.0000,-66.9000,547.552,154.005)" d="M0.100,0H0.900V0.8830H0.100Z" fill="url(#pz1)" stroke="#222" stroke-width="0.6" stroke-linejoin="round" vector-effect="non-scaling-stroke"/><path transform="matrix(14.7200,-4.9500,0.0000,-66.9000,486.032,173.418)" d="M4.100,0H4.900V0.8830H4.100Z" fill="url(#pz1)" stroke="#222" stroke-width="0.6" stroke-linejoin="round" vector-effect="non-scaling-stroke"/><path d="M546.38,94.05L558.16,90.09L548.82,83.03L537.04,86.99Z" fill="#f6f21e" stroke="#222" stroke-width="0.6" stroke-linejoin="round"/><path transform="matrix(-11.6800,-8.8200,0.0000,-66.9000,488.672,173.805)" d="M3.100,0H3.900V0.8160H3.100Z" fill="url(#pz1)" stroke="#222" stroke-width="0.6" stroke-linejoin="round" vector-effect="non-scaling-stroke"/><path transform="matrix(14.7200,-4.9500,0.0000,-66.9000,450.992,146.958)" d="M0.100,0H0.900V0.8160H0.100Z" fill="url(#pz1)" stroke="#222" stroke-width="0.6" stroke-linejoin="round" vector-effect="non-scaling-stroke"/><path d="M452.46,91.87L464.24,87.91L454.90,80.86L443.12,84.82Z" fill="#fad52e" stroke="#222" stroke-width="0.6" stroke-linejoin="round"/><path transform="matrix(-11.6800,-8.8200,0.0000,-66.9000,503.392,168.855)" d="M2.100,0H2.900V0.8200H2.100Z" fill="url(#pz1)" stroke="#222" stroke-width="0.6" stroke-linejoin="round" vector-effect="non-scaling-stroke"/><path transform="matrix(14.7200,-4.9500,0.0000,-66.9000,462.672,155.778)" d="M1.100,0H1.900V0.8200H1.100Z" fill="url(#pz1)" stroke="#222" stroke-width="0.6" stroke-linejoin="round" vector-effect="non-scaling-stroke"/><path d="M478.86,95.48L490.64,91.52L481.30,84.46L469.52,88.42Z" fill="#f9d62d" stroke="#222" stroke-width="0.6" stroke-linejoin="round"/><path transform="matrix(-11.6800,-8.8200,0.0000,-66.9000,518.112,163.905)" d="M1.100,0H1.900V0.8000H1.100Z" fill="url(#pz1)" stroke="#222" stroke-width="0.6" stroke-linejoin="round" vector-effect="non-scaling-stroke"/><path transform="matrix(14.7200,-4.9500,0.0000,-66.9000,474.352,164.598)" d="M2.100,0H2.900V0.8000H2.100Z" fill="url(#pz1)" stroke="#222" stroke-width="0.6" stroke-linejoin="round" vector-effect="non-scaling-stroke"/><path d="M505.26,100.68L517.04,96.72L507.70,89.67L495.92,93.63Z" fill="#fdce31" stroke="#222" stroke-width="0.6" stroke-linejoin="round"/><path transform="matrix(-11.6800,-8.8200,0.0000,-66.9000,532.832,158.955)" d="M0.100,0H0.900V0.9050H0.100Z" fill="url(#pz1)" stroke="#222" stroke-width="0.6" stroke-linejoin="round" vector-effect="non-scaling-stroke"/><path transform="matrix(14.7200,-4.9500,0.0000,-66.9000,486.032,173.418)" d="M3.100,0H3.900V0.9050H3.100Z" fill="url(#pz1)" stroke="#222" stroke-width="0.6" stroke-linejoin="round" vector-effect="non-scaling-stroke"/><path d="M531.66,97.53L543.44,93.57L534.10,86.51L522.32,90.47Z" fill="#f9fb15" stroke="#222" stroke-width="0.6" stroke-linejoin="round"/><path transform="matrix(-11.6800,-8.8200,0.0000,-66.9000,488.672,173.805)" d="M2.100,0H2.900V0.8250H2.100Z" fill="url(#pz1)" stroke="#222" stroke-width="0.6" stroke-linejoin="round" vector-effect="non-scaling-stroke"/><path transform="matrix(14.7200,-4.9500,0.0000,-66.9000,462.672,155.778)" d="M0.100,0H0.900V0.8250H0.100Z" fill="url(#pz1)" stroke="#222" stroke-width="0.6" stroke-linejoin="round" vector-effect="non-scaling-stroke"/><path d="M464.14,100.09L475.92,96.13L466.58,89.07L454.80,93.03Z" fill="#f8d92c" stroke="#222" stroke-width="0.6" stroke-linejoin="round"/><path transform="matrix(-11.6800,-8.8200,0.0000,-66.9000,503.392,168.855)" d="M1.100,0H1.900V0.8100H1.100Z" fill="url(#pz1)" stroke="#222" stroke-width="0.6" stroke-linejoin="round" vector-effect="non-scaling-stroke"/><path transform="matrix(14.7200,-4.9500,0.0000,-66.9000,474.352,164.598)" d="M1.100,0H1.900V0.8100H1.100Z" fill="url(#pz1)" stroke="#222" stroke-width="0.6" stroke-linejoin="round" vector-effect="non-scaling-stroke"/><path d="M490.54,104.96L502.32,101.00L492.98,93.95L481.20,97.91Z" fill="#fbd22f" stroke="#222" stroke-width="0.6" stroke-linejoin="round"/><path transform="matrix(-11.6800,-8.8200,0.0000,-66.9000,518.112,163.905)" d="M0.100,0H0.900V0.8870H0.100Z" fill="url(#pz1)" stroke="#222" stroke-width="0.6" stroke-linejoin="round" vector-effect="non-scaling-stroke"/><path transform="matrix(14.7200,-4.9500,0.0000,-66.9000,486.032,173.418)" d="M2.100,0H2.900V0.8870H2.100Z" fill="url(#pz1)" stroke="#222" stroke-width="0.6" stroke-linejoin="round" vector-effect="non-scaling-stroke"/><path d="M516.94,103.68L528.72,99.72L519.38,92.67L507.60,96.63Z" fill="#f7f31c" stroke="#222" stroke-width="0.6" stroke-linejoin="round"/><path transform="matrix(-11.6800,-8.8200,0.0000,-66.9000,488.672,173.805)" d="M1.100,0H1.900V0.7750H1.100Z" fill="url(#pz1)" stroke="#222" stroke-width="0.6" stroke-linejoin="round" vector-effect="non-scaling-stroke"/><path transform="matrix(14.7200,-4.9500,0.0000,-66.9000,474.352,164.598)" d="M0.100,0H0.900V0.7750H0.100Z" fill="url(#pz1)" stroke="#222" stroke-width="0.6" stroke-linejoin="round" vector-effect="non-scaling-stroke"/><path d="M475.82,112.26L487.60,108.30L478.26,101.24L466.48,105.20Z" fill="#fec338" stroke="#222" stroke-width="0.6" stroke-linejoin="round"/><path transform="matrix(-11.6800,-8.8200,0.0000,-66.9000,503.392,168.855)" d="M0.100,0H0.900V0.8700H0.100Z" fill="url(#pz1)" stroke="#222" stroke-width="0.6" stroke-linejoin="round" vector-effect="non-scaling-stroke"/><path transform="matrix(14.7200,-4.9500,0.0000,-66.9000,486.032,173.418)" d="M1.100,0H1.900V0.8700H1.100Z" fill="url(#pz1)" stroke="#222" stroke-width="0.6" stroke-linejoin="round" vector-effect="non-scaling-stroke"/><path d="M502.22,109.77L514.00,105.81L504.66,98.75L492.88,102.71Z" fill="#f5ec22" stroke="#222" stroke-width="0.6" stroke-linejoin="round"/><path transform="matrix(-11.6800,-8.8200,0.0000,-66.9000,488.672,173.805)" d="M0.100,0H0.900V0.9000H0.100Z" fill="url(#pz1)" stroke="#222" stroke-width="0.6" stroke-linejoin="round" vector-effect="non-scaling-stroke"/><path transform="matrix(14.7200,-4.9500,0.0000,-66.9000,486.032,173.418)" d="M0.100,0H0.900V0.9000H0.100Z" fill="url(#pz1)" stroke="#222" stroke-width="0.6" stroke-linejoin="round" vector-effect="non-scaling-stroke"/><path d="M487.50,112.71L499.28,108.75L489.94,101.70L478.16,105.66Z" fill="#f8f917" stroke="#222" stroke-width="0.6" stroke-linejoin="round"/></g><g stroke="#262626" stroke-width="0.6" fill="none" stroke-linecap="square"><line x1="487.20" y1="174.30" x2="649.12" y2="119.85"/><line x1="487.20" y1="174.30" x2="417.12" y2="121.38"/><line x1="417.12" y1="121.38" x2="417.12" y2="54.48"/><line x1="494.56" y1="171.83" x2="497.48" y2="174.03"/><line x1="509.28" y1="166.88" x2="512.20" y2="169.08"/><line x1="524.00" y1="161.93" x2="526.92" y2="164.13"/><line x1="538.72" y1="156.98" x2="541.64" y2="159.18"/><line x1="553.44" y1="152.03" x2="556.36" y2="154.23"/><line x1="568.16" y1="147.08" x2="571.08" y2="149.28"/><line x1="582.88" y1="142.12" x2="585.80" y2="144.33"/><line x1="597.60" y1="137.18" x2="600.52" y2="139.38"/><line x1="612.32" y1="132.23" x2="615.24" y2="134.43"/><line x1="627.04" y1="127.28" x2="629.96" y2="129.48"/><line x1="641.76" y1="122.33" x2="644.68" y2="124.53"/><line x1="481.36" y1="169.89" x2="477.68" y2="171.13"/><line x1="469.68" y1="161.07" x2="466.00" y2="162.31"/><line x1="458.00" y1="152.25" x2="454.32" y2="153.49"/><line x1="446.32" y1="143.43" x2="442.64" y2="144.67"/><line x1="434.64" y1="134.61" x2="430.96" y2="135.85"/><line x1="422.96" y1="125.79" x2="419.28" y2="127.03"/><line x1="417.12" y1="121.38" x2="413.73" y2="118.82"/><line x1="417.12" y1="87.93" x2="413.73" y2="85.37"/><line x1="417.12" y1="54.48" x2="413.73" y2="51.92"/></g><g font-family="Liberation Sans, sans-serif" font-size="9.3" fill="#262626" stroke="#262626" stroke-width="0.12" opacity="0.995"><text x="499.68" y="179.98" transform="rotate(40 499.68 179.98)">Realism</text><text x="514.40" y="175.03" transform="rotate(40 514.40 175.03)">PostImpres.</text><text x="529.12" y="170.08" transform="rotate(40 529.12 170.08)">Neoclassicism</text><text x="543.84" y="165.13" transform="rotate(40 543.84 165.13)">Minimalism</text><text x="558.56" y="160.18" transform="rotate(40 558.56 160.18)">MagicRealism</text><text x="573.28" y="155.23" transform="rotate(40 573.28 155.23)">Impressionism</text><text x="588.00" y="150.28" transform="rotate(40 588.00 150.28)">Expressionism</text><text x="602.72" y="145.33" transform="rotate(40 602.72 145.33)">Cubism</text><text x="617.44" y="140.38" transform="rotate(40 617.44 140.38)">ColorFieldPain</text><text x="632.16" y="135.43" transform="rotate(40 632.16 135.43)">Abs.Expres.</text><text x="646.88" y="130.48" transform="rotate(40 646.88 130.48)">AbstractArt</text><text x="475.56" y="176.41" text-anchor="end" transform="rotate(-30 475.56 176.41)">Proposed</text><text x="463.88" y="167.59" text-anchor="end" transform="rotate(-30 463.88 167.59)">Proposed (no LABHO)</text><text x="452.20" y="158.77" text-anchor="end" transform="rotate(-30 452.20 158.77)">proposed (BHO only)</text><text x="440.52" y="149.95" text-anchor="end" transform="rotate(-30 440.52 149.95)">Mohammadi et al [26]</text><text x="428.84" y="141.13" text-anchor="end" transform="rotate(-30 428.84 141.13)">Yang [22]</text><text x="417.16" y="132.31" text-anchor="end" transform="rotate(-30 417.16 132.31)">Zhao et al [23]</text><text x="410.42" y="121.08" text-anchor="end">0</text><text x="410.42" y="87.63" text-anchor="end">0.5</text><text x="410.42" y="54.18" text-anchor="end">1</text><text x="390.92" y="87.98" text-anchor="middle" font-size="10.2" transform="rotate(-90 390.92 87.98)">Recall</text></g><g stroke="#dedede" stroke-width="0.5" fill="none"><line x1="236.12" y1="339.18" x2="398.04" y2="284.73"/><line x1="398.04" y1="284.73" x2="468.12" y2="337.65"/><line x1="236.12" y1="305.73" x2="398.04" y2="251.28"/><line x1="398.04" y1="251.28" x2="468.12" y2="304.20"/><line x1="236.12" y1="272.28" x2="398.04" y2="217.83"/><line x1="398.04" y1="217.83" x2="468.12" y2="270.75"/><line x1="243.48" y1="336.70" x2="243.48" y2="269.80"/><line x1="313.56" y1="389.62" x2="243.48" y2="336.70"/><line x1="258.20" y1="331.75" x2="258.20" y2="264.86"/><line x1="328.28" y1="384.68" x2="258.20" y2="331.75"/><line x1="272.92" y1="326.81" x2="272.92" y2="259.90"/><line x1="343.00" y1="379.73" x2="272.92" y2="326.81"/><line x1="287.64" y1="321.86" x2="287.64" y2="254.96"/><line x1="357.72" y1="374.78" x2="287.64" y2="321.86"/><line x1="302.36" y1="316.91" x2="302.36" y2="250.01"/><line x1="372.44" y1="369.83" x2="302.36" y2="316.91"/><line x1="317.08" y1="311.95" x2="317.08" y2="245.05"/><line x1="387.16" y1="364.88" x2="317.08" y2="311.95"/><line x1="331.80" y1="307.00" x2="331.80" y2="240.10"/><line x1="401.88" y1="359.93" x2="331.80" y2="307.00"/><line x1="346.52" y1="302.06" x2="346.52" y2="235.16"/><line x1="416.60" y1="354.98" x2="346.52" y2="302.06"/><line x1="361.24" y1="297.11" x2="361.24" y2="230.21"/><line x1="431.32" y1="350.03" x2="361.24" y2="297.11"/><line x1="375.96" y1="292.16" x2="375.96" y2="225.26"/><line x1="446.04" y1="345.08" x2="375.96" y2="292.16"/><line x1="390.68" y1="287.20" x2="390.68" y2="220.30"/><line x1="460.76" y1="340.12" x2="390.68" y2="287.20"/><line x1="462.28" y1="333.24" x2="462.28" y2="266.34"/><line x1="300.36" y1="387.69" x2="462.28" y2="333.24"/><line x1="450.60" y1="324.42" x2="450.60" y2="257.52"/><line x1="288.68" y1="378.87" x2="450.60" y2="324.42"/><line x1="438.92" y1="315.60" x2="438.92" y2="248.70"/><line x1="277.00" y1="370.05" x2="438.92" y2="315.60"/><line x1="427.24" y1="306.78" x2="427.24" y2="239.88"/><line x1="265.32" y1="361.23" x2="427.24" y2="306.78"/><line x1="415.56" y1="297.96" x2="415.56" y2="231.06"/><line x1="253.64" y1="352.41" x2="415.56" y2="297.96"/><line x1="403.88" y1="289.14" x2="403.88" y2="222.24"/><line x1="241.96" y1="343.59" x2="403.88" y2="289.14"/><line x1="398.04" y1="284.73" x2="398.04" y2="217.83"/><line x1="468.12" y1="337.65" x2="468.12" y2="270.75"/></g><g><path transform="matrix(-11.6800,-8.8200,0.0000,-66.9000,454.872,342.105)" d="M5.100,0H5.900V0.8870H5.100Z" fill="url(#pz2)" stroke="#222" stroke-width="0.6" stroke-linejoin="round" vector-effect="non-scaling-stroke"/><path transform="matrix(14.7200,-4.9500,0.0000,-66.9000,246.632,347.118)" d="M10.100,0H10.900V0.8870H10.100Z" fill="url(#pz2)" stroke="#222" stroke-width="0.6" stroke-linejoin="round" vector-effect="non-scaling-stroke"/><path d="M395.30,237.78L407.08,233.82L397.74,226.77L385.96,230.73Z" fill="#f5e825" stroke="#222" stroke-width="0.6" stroke-linejoin="round"/><path transform="matrix(-11.6800,-8.8200,0.0000,-66.9000,440.152,347.055)" d="M5.100,0H5.900V0.5000H5.100Z" fill="url(#pz2)" stroke="#222" stroke-width="0.6" stroke-linejoin="round" vector-effect="non-scaling-stroke"/><path transform="matrix(14.7200,-4.9500,0.0000,-66.9000,246.632,347.118)" d="M9.100,0H9.900V0.5000H9.100Z" fill="url(#pz2)" stroke="#222" stroke-width="0.6" stroke-linejoin="round" vector-effect="non-scaling-stroke"/><path d="M380.58,268.62L392.36,264.66L383.02,257.61L371.24,261.57Z" fill="#2ac3a9" stroke="#222" stroke-width="0.6" stroke-linejoin="round"/><path transform="matrix(-11.6800,-8.8200,0.0000,-66.9000,454.872,342.105)" d="M4.100,0H4.900V0.8250H4.100Z" fill="url(#pz2)" stroke="#222" stroke-width="0.6" stroke-linejoin="round" vector-effect="non-scaling-stroke"/><path transform="matrix(14.7200,-4.9500,0.0000,-66.9000,258.312,355.938)" d="M10.100,0H10.900V0.8250H10.100Z" fill="url(#pz2)" stroke="#222" stroke-width="0.6" stroke-linejoin="round" vector-effect="non-scaling-stroke"/><path d="M406.98,250.75L418.76,246.79L409.42,239.73L397.64,243.69Z" fill="#fdcd31" stroke="#222" stroke-width="0.6" stroke-linejoin="round"/><path transform="matrix(-11.6800,-8.8200,0.0000,-66.9000,425.432,352.005)" d="M5.100,0H5.900V0.8190H5.100Z" fill="url(#pz2)" stroke="#222" stroke-width="0.6" stroke-linejoin="round" vector-effect="non-scaling-stroke"/><path transform="matrix(14.7200,-4.9500,0.0000,-66.9000,246.632,347.118)" d="M8.100,0H8.900V0.8190H8.100Z" fill="url(#pz2)" stroke="#222" stroke-width="0.6" stroke-linejoin="round" vector-effect="non-scaling-stroke"/><path d="M365.86,252.23L377.64,248.27L368.30,241.22L356.52,245.18Z" fill="#fdcb33" stroke="#222" stroke-width="0.6" stroke-linejoin="round"/><path transform="matrix(-11.6800,-8.8200,0.0000,-66.9000,440.152,347.055)" d="M4.100,0H4.900V0.5000H4.100Z" fill="url(#pz2)" stroke="#222" stroke-width="0.6" stroke-linejoin="round" vector-effect="non-scaling-stroke"/><path transform="matrix(14.7200,-4.9500,0.0000,-66.9000,258.312,355.938)" d="M9.100,0H9.900V0.5000H9.100Z" fill="url(#pz2)" stroke="#222" stroke-width="0.6" stroke-linejoin="round" vector-effect="non-scaling-stroke"/><path d="M392.26,277.44L404.04,273.48L394.70,266.43L382.92,270.39Z" fill="#2ac3a9" stroke="#222" stroke-width="0.6" stroke-linejoin="round"/><path transform="matrix(-11.6800,-8.8200,0.0000,-66.9000,454.872,342.105)" d="M3.100,0H3.900V0.8570H3.100Z" fill="url(#pz2)" stroke="#222" stroke-width="0.6" stroke-linejoin="round" vector-effect="non-scaling-stroke"/><path transform="matrix(14.7200,-4.9500,0.0000,-66.9000,269.992,364.758)" d="M10.100,0H10.900V0.8570H10.100Z" fill="url(#pz2)" stroke="#222" stroke-width="0.6" stroke-linejoin="round" vector-effect="non-scaling-stroke"/><path d="M418.66,257.43L430.44,253.47L421.10,246.41L409.32,250.37Z" fill="#f7db2b" stroke="#222" stroke-width="0.6" stroke-linejoin="round"/><path transform="matrix(-11.6800,-8.8200,0.0000,-66.9000,410.712,356.955)" d="M5.100,0H5.900V0.8400H5.100Z" fill="url(#pz2)" stroke="#222" stroke-width="0.6" stroke-linejoin="round" vector-effect="non-scaling-stroke"/><path transform="matrix(14.7200,-4.9500,0.0000,-66.9000,246.632,347.118)" d="M7.100,0H7.900V0.8400H7.100Z" fill="url(#pz2)" stroke="#222" stroke-width="0.6" stroke-linejoin="round" vector-effect="non-scaling-stroke"/><path d="M351.14,255.78L362.92,251.82L353.58,244.76L341.80,248.72Z" fill="#fad42e" stroke="#222" stroke-width="0.6" stroke-linejoin="round"/><path transform="matrix(-11.6800,-8.8200,0.0000,-66.9000,425.432,352.005)" d="M4.100,0H4.900V0.7250H4.100Z" fill="url(#pz2)" stroke="#222" stroke-width="0.6" stroke-linejoin="round" vector-effect="non-scaling-stroke"/><path transform="matrix(14.7200,-4.9500,0.0000,-66.9000,258.312,355.938)" d="M8.100,0H8.900V0.7250H8.100Z" fill="url(#pz2)" stroke="#222" stroke-width="0.6" stroke-linejoin="round" vector-effect="non-scaling-stroke"/><path d="M377.54,267.34L389.32,263.38L379.98,256.32L368.20,260.28Z" fill="#dbbd29" stroke="#222" stroke-width="0.6" stroke-linejoin="round"/><path transform="matrix(-11.6800,-8.8200,0.0000,-66.9000,440.152,347.055)" d="M3.100,0H3.900V0.5000H3.100Z" fill="url(#pz2)" stroke="#222" stroke-width="0.6" stroke-linejoin="round" vector-effect="non-scaling-stroke"/><path transform="matrix(14.7200,-4.9500,0.0000,-66.9000,269.992,364.758)" d="M9.100,0H9.900V0.5000H9.100Z" fill="url(#pz2)" stroke="#222" stroke-width="0.6" stroke-linejoin="round" vector-effect="non-scaling-stroke"/><path d="M403.94,286.26L415.72,282.30L406.38,275.25L394.60,279.21Z" fill="#2ac3a9" stroke="#222" stroke-width="0.6" stroke-linejoin="round"/><path transform="matrix(-11.6800,-8.8200,0.0000,-66.9000,454.872,342.105)" d="M2.100,0H2.900V0.8570H2.100Z" fill="url(#pz2)" stroke="#222" stroke-width="0.6" stroke-linejoin="round" vector-effect="non-scaling-stroke"/><path transform="matrix(14.7200,-4.9500,0.0000,-66.9000,281.672,373.578)" d="M10.100,0H10.900V0.8570H10.100Z" fill="url(#pz2)" stroke="#222" stroke-width="0.6" stroke-linejoin="round" vector-effect="non-scaling-stroke"/><path d="M430.34,266.25L442.12,262.29L432.78,255.23L421.00,259.19Z" fill="#f7db2b" stroke="#222" stroke-width="0.6" stroke-linejoin="round"/><path transform="matrix(-11.6800,-8.8200,0.0000,-66.9000,395.992,361.905)" d="M5.100,0H5.900V0.8690H5.100Z" fill="url(#pz2)" stroke="#222" stroke-width="0.6" stroke-linejoin="round" vector-effect="non-scaling-stroke"/><path transform="matrix(14.7200,-4.9500,0.0000,-66.9000,246.632,347.118)" d="M6.100,0H6.900V0.8690H6.100Z" fill="url(#pz2)" stroke="#222" stroke-width="0.6" stroke-linejoin="round" vector-effect="non-scaling-stroke"/><path d="M336.42,258.79L348.20,254.83L338.86,247.77L327.08,251.73Z" fill="#f6e028" stroke="#222" stroke-width="0.6" stroke-linejoin="round"/><path transform="matrix(-11.6800,-8.8200,0.0000,-66.9000,410.712,356.955)" d="M4.100,0H4.900V0.7920H4.100Z" fill="url(#pz2)" stroke="#222" stroke-width="0.6" stroke-linejoin="round" vector-effect="non-scaling-stroke"/><path transform="matrix(14.7200,-4.9500,0.0000,-66.9000,258.312,355.938)" d="M7.100,0H7.900V0.7920H7.100Z" fill="url(#pz2)" stroke="#222" stroke-width="0.6" stroke-linejoin="round" vector-effect="non-scaling-stroke"/><path d="M362.82,267.81L374.60,263.85L365.26,256.79L353.48,260.75Z" fill="#fec03b" stroke="#222" stroke-width="0.6" stroke-linejoin="round"/><path transform="matrix(-11.6800,-8.8200,0.0000,-66.9000,425.432,352.005)" d="M3.100,0H3.900V0.8070H3.100Z" fill="url(#pz2)" stroke="#222" stroke-width="0.6" stroke-linejoin="round" vector-effect="non-scaling-stroke"/><path transform="matrix(14.7200,-4.9500,0.0000,-66.9000,269.992,364.758)" d="M8.100,0H8.900V0.8070H8.100Z" fill="url(#pz2)" stroke="#222" stroke-width="0.6" stroke-linejoin="round" vector-effect="non-scaling-stroke"/><path d="M389.22,270.67L401.00,266.71L391.66,259.66L379.88,263.62Z" fill="#fec636" stroke="#222" stroke-width="0.6" stroke-linejoin="round"/><path transform="matrix(-11.6800,-8.8200,0.0000,-66.9000,440.152,347.055)" d="M2.100,0H2.900V0.5000H2.100Z" fill="url(#pz2)" stroke="#222" stroke-width="0.6" stroke-linejoin="round" vector-effect="non-scaling-stroke"/><path transform="matrix(14.7200,-4.9500,0.0000,-66.9000,281.672,373.578)" d="M9.100,0H9.900V0.5000H9.100Z" fill="url(#pz2)" stroke="#222" stroke-width="0.6" stroke-linejoin="round" vector-effect="non-scaling-stroke"/><path d="M415.62,295.08L427.40,291.12L418.06,284.07L406.28,288.03Z" fill="#2ac3a9" stroke="#222" stroke-width="0.6" stroke-linejoin="round"/><path transform="matrix(-11.6800,-8.8200,0.0000,-66.9000,454.872,342.105)" d="M1.100,0H1.900V0.8270H1.100Z" fill="url(#pz2)" stroke="#222" stroke-width="0.6" stroke-linejoin="round" vector-effect="non-scaling-stroke"/><path transform="matrix(14.7200,-4.9500,0.0000,-66.9000,293.352,382.398)" d="M10.100,0H10.900V0.8270H10.100Z" fill="url(#pz2)" stroke="#222" stroke-width="0.6" stroke-linejoin="round" vector-effect="non-scaling-stroke"/><path d="M442.02,277.08L453.80,273.12L444.46,266.06L432.68,270.02Z" fill="#fdce31" stroke="#222" stroke-width="0.6" stroke-linejoin="round"/><path transform="matrix(-11.6800,-8.8200,0.0000,-66.9000,381.272,366.855)" d="M5.100,0H5.900V0.8480H5.100Z" fill="url(#pz2)" stroke="#222" stroke-width="0.6" stroke-linejoin="round" vector-effect="non-scaling-stroke"/><path transform="matrix(14.7200,-4.9500,0.0000,-66.9000,246.632,347.118)" d="M5.100,0H5.900V0.8480H5.100Z" fill="url(#pz2)" stroke="#222" stroke-width="0.6" stroke-linejoin="round" vector-effect="non-scaling-stroke"/><path d="M321.70,265.14L333.48,261.18L324.14,254.13L312.36,258.09Z" fill="#f9d72c" stroke="#222" stroke-width="0.6" stroke-linejoin="round"/><path transform="matrix(-11.6800,-8.8200,0.0000,-66.9000,395.992,361.905)" d="M4.100,0H4.900V0.8060H4.100Z" fill="url(#pz2)" stroke="#222" stroke-width="0.6" stroke-linejoin="round" vector-effect="non-scaling-stroke"/><path transform="matrix(14.7200,-4.9500,0.0000,-66.9000,258.312,355.938)" d="M6.100,0H6.900V0.8060H6.100Z" fill="url(#pz2)" stroke="#222" stroke-width="0.6" stroke-linejoin="round" vector-effect="non-scaling-stroke"/><path d="M348.10,271.82L359.88,267.86L350.54,260.81L338.76,264.77Z" fill="#fec536" stroke="#222" stroke-width="0.6" stroke-linejoin="round"/><path transform="matrix(-11.6800,-8.8200,0.0000,-66.9000,410.712,356.955)" d="M3.100,0H3.900V0.8170H3.100Z" fill="url(#pz2)" stroke="#222" stroke-width="0.6" stroke-linejoin="round" vector-effect="non-scaling-stroke"/><path transform="matrix(14.7200,-4.9500,0.0000,-66.9000,269.992,364.758)" d="M7.100,0H7.900V0.8170H7.100Z" fill="url(#pz2)" stroke="#222" stroke-width="0.6" stroke-linejoin="round" vector-effect="non-scaling-stroke"/><path d="M374.50,274.96L386.28,271.00L376.94,263.94L365.16,267.90Z" fill="#feca33" stroke="#222" stroke-width="0.6" stroke-linejoin="round"/><path transform="matrix(-11.6800,-8.8200,0.0000,-66.9000,425.432,352.005)" d="M2.100,0H2.900V0.8100H2.100Z" fill="url(#pz2)" stroke="#222" stroke-width="0.6" stroke-linejoin="round" vector-effect="non-scaling-stroke"/><path transform="matrix(14.7200,-4.9500,0.0000,-66.9000,281.672,373.578)" d="M8.100,0H8.900V0.8100H8.100Z" fill="url(#pz2)" stroke="#222" stroke-width="0.6" stroke-linejoin="round" vector-effect="non-scaling-stroke"/><path d="M400.90,279.29L412.68,275.33L403.34,268.28L391.56,272.24Z" fill="#fec735" stroke="#222" stroke-width="0.6" stroke-linejoin="round"/><path transform="matrix(-11.6800,-8.8200,0.0000,-66.9000,440.152,347.055)" d="M1.100,0H1.900V0.4300H1.100Z" fill="url(#pz2)" stroke="#222" stroke-width="0.6" stroke-linejoin="round" vector-effect="non-scaling-stroke"/><path transform="matrix(14.7200,-4.9500,0.0000,-66.9000,293.352,382.398)" d="M9.100,0H9.900V0.4300H9.100Z" fill="url(#pz2)" stroke="#222" stroke-width="0.6" stroke-linejoin="round" vector-effect="non-scaling-stroke"/><path d="M427.30,308.59L439.08,304.63L429.74,297.57L417.96,301.53Z" fill="#01b8ca" stroke="#222" stroke-width="0.6" stroke-linejoin="round"/><path transform="matrix(-11.6800,-8.8200,0.0000,-66.9000,454.872,342.105)" d="M0.100,0H0.900V0.9170H0.100Z" fill="url(#pz2)" stroke="#222" stroke-width="0.6" stroke-linejoin="round" vector-effect="non-scaling-stroke"/><path transform="matrix(14.7200,-4.9500,0.0000,-66.9000,305.032,391.218)" d="M10.100,0H10.900V0.9170H10.100Z" fill="url(#pz2)" stroke="#222" stroke-width="0.6" stroke-linejoin="round" vector-effect="non-scaling-stroke"/><path d="M453.70,279.88L465.48,275.92L456.14,268.86L444.36,272.82Z" fill="#f7f41c" stroke="#222" stroke-width="0.6" stroke-linejoin="round"/><path transform="matrix(-11.6800,-8.8200,0.0000,-66.9000,366.552,371.805)" d="M5.100,0H5.900V0.7170H5.100Z" fill="url(#pz2)" stroke="#222" stroke-width="0.6" stroke-linejoin="round" vector-effect="non-scaling-stroke"/><path transform="matrix(14.7200,-4.9500,0.0000,-66.9000,246.632,347.118)" d="M4.100,0H4.900V0.7170H4.100Z" fill="url(#pz2)" stroke="#222" stroke-width="0.6" stroke-linejoin="round" vector-effect="non-scaling-stroke"/><path d="M306.98,278.86L318.76,274.90L309.42,267.84L297.64,271.80Z" fill="#d5be28" stroke="#222" stroke-width="0.6" stroke-linejoin="round"/><path transform="matrix(-11.6800,-8.8200,0.0000,-66.9000,381.272,366.855)" d="M4.100,0H4.900V0.7770H4.100Z" fill="url(#pz2)" stroke="#222" stroke-width="0.6" stroke-linejoin="round" vector-effect="non-scaling-stroke"/><path transform="matrix(14.7200,-4.9500,0.0000,-66.9000,258.312,355.938)" d="M5.100,0H5.900V0.7770H5.100Z" fill="url(#pz2)" stroke="#222" stroke-width="0.6" stroke-linejoin="round" vector-effect="non-scaling-stroke"/><path d="M333.38,278.71L345.16,274.75L335.82,267.70L324.04,271.66Z" fill="#fabc3d" stroke="#222" stroke-width="0.6" stroke-linejoin="round"/><path transform="matrix(-11.6800,-8.8200,0.0000,-66.9000,395.992,361.905)" d="M3.100,0H3.900V0.8390H3.100Z" fill="url(#pz2)" stroke="#222" stroke-width="0.6" stroke-linejoin="round" vector-effect="non-scaling-stroke"/><path transform="matrix(14.7200,-4.9500,0.0000,-66.9000,269.992,364.758)" d="M6.100,0H6.900V0.8390H6.100Z" fill="url(#pz2)" stroke="#222" stroke-width="0.6" stroke-linejoin="round" vector-effect="non-scaling-stroke"/><path d="M359.78,278.43L371.56,274.47L362.22,267.42L350.44,271.38Z" fill="#fbd32e" stroke="#222" stroke-width="0.6" stroke-linejoin="round"/><path transform="matrix(-11.6800,-8.8200,0.0000,-66.9000,410.712,356.955)" d="M2.100,0H2.900V0.8120H2.100Z" fill="url(#pz2)" stroke="#222" stroke-width="0.6" stroke-linejoin="round" vector-effect="non-scaling-stroke"/><path transform="matrix(14.7200,-4.9500,0.0000,-66.9000,281.672,373.578)" d="M7.100,0H7.900V0.8120H7.100Z" fill="url(#pz2)" stroke="#222" stroke-width="0.6" stroke-linejoin="round" vector-effect="non-scaling-stroke"/><path d="M386.18,284.11L397.96,280.15L388.62,273.09L376.84,277.05Z" fill="#fec835" stroke="#222" stroke-width="0.6" stroke-linejoin="round"/><path transform="matrix(-11.6800,-8.8200,0.0000,-66.9000,425.432,352.005)" d="M1.100,0H1.900V0.7270H1.100Z" fill="url(#pz2)" stroke="#222" stroke-width="0.6" stroke-linejoin="round" vector-effect="non-scaling-stroke"/><path transform="matrix(14.7200,-4.9500,0.0000,-66.9000,293.352,382.398)" d="M8.100,0H8.900V0.7270H8.100Z" fill="url(#pz2)" stroke="#222" stroke-width="0.6" stroke-linejoin="round" vector-effect="non-scaling-stroke"/><path d="M412.58,293.67L424.36,289.71L415.02,282.65L403.24,286.61Z" fill="#ddbd29" stroke="#222" stroke-width="0.6" stroke-linejoin="round"/><path transform="matrix(-11.6800,-8.8200,0.0000,-66.9000,440.152,347.055)" d="M0.100,0H0.900V0.5240H0.100Z" fill="url(#pz2)" stroke="#222" stroke-width="0.6" stroke-linejoin="round" vector-effect="non-scaling-stroke"/><path transform="matrix(14.7200,-4.9500,0.0000,-66.9000,305.032,391.218)" d="M9.100,0H9.900V0.5240H9.100Z" fill="url(#pz2)" stroke="#222" stroke-width="0.6" stroke-linejoin="round" vector-effect="non-scaling-stroke"/><path d="M438.98,311.12L450.76,307.16L441.42,300.10L429.64,304.06Z" fill="#33c79d" stroke="#222" stroke-width="0.6" stroke-linejoin="round"/><path transform="matrix(-11.6800,-8.8200,0.0000,-66.9000,351.832,376.755)" d="M5.100,0H5.900V0.8500H5.100Z" fill="url(#pz2)" stroke="#222" stroke-width="0.6" stroke-linejoin="round" vector-effect="non-scaling-stroke"/><path transform="matrix(14.7200,-4.9500,0.0000,-66.9000,246.632,347.118)" d="M3.100,0H3.900V0.8500H3.100Z" fill="url(#pz2)" stroke="#222" stroke-width="0.6" stroke-linejoin="round" vector-effect="non-scaling-stroke"/><path d="M292.26,274.91L304.04,270.95L294.70,263.89L282.92,267.85Z" fill="#f9d82c" stroke="#222" stroke-width="0.6" stroke-linejoin="round"/><path transform="matrix(-11.6800,-8.8200,0.0000,-66.9000,366.552,371.805)" d="M4.100,0H4.900V0.6680H4.100Z" fill="url(#pz2)" stroke="#222" stroke-width="0.6" stroke-linejoin="round" vector-effect="non-scaling-stroke"/><path transform="matrix(14.7200,-4.9500,0.0000,-66.9000,258.312,355.938)" d="M4.100,0H4.900V0.6680H4.100Z" fill="url(#pz2)" stroke="#222" stroke-width="0.6" stroke-linejoin="round" vector-effect="non-scaling-stroke"/><path d="M318.66,290.95L330.44,286.99L321.10,279.94L309.32,283.90Z" fill="#acc738" stroke="#222" stroke-width="0.6" stroke-linejoin="round"/><path transform="matrix(-11.6800,-8.8200,0.0000,-66.9000,381.272,366.855)" d="M3.100,0H3.900V0.8200H3.100Z" fill="url(#pz2)" stroke="#222" stroke-width="0.6" stroke-linejoin="round" vector-effect="non-scaling-stroke"/><path transform="matrix(14.7200,-4.9500,0.0000,-66.9000,269.992,364.758)" d="M5.100,0H5.900V0.8200H5.100Z" fill="url(#pz2)" stroke="#222" stroke-width="0.6" stroke-linejoin="round" vector-effect="non-scaling-stroke"/><path d="M345.06,284.66L356.84,280.70L347.50,273.64L335.72,277.60Z" fill="#fdcb33" stroke="#222" stroke-width="0.6" stroke-linejoin="round"/><path transform="matrix(-11.6800,-8.8200,0.0000,-66.9000,395.992,361.905)" d="M2.100,0H2.900V0.8640H2.100Z" fill="url(#pz2)" stroke="#222" stroke-width="0.6" stroke-linejoin="round" vector-effect="non-scaling-stroke"/><path transform="matrix(14.7200,-4.9500,0.0000,-66.9000,281.672,373.578)" d="M6.100,0H6.900V0.8640H6.100Z" fill="url(#pz2)" stroke="#222" stroke-width="0.6" stroke-linejoin="round" vector-effect="non-scaling-stroke"/><path d="M371.46,285.58L383.24,281.62L373.90,274.57L362.12,278.53Z" fill="#f6de29" stroke="#222" stroke-width="0.6" stroke-linejoin="round"/><path transform="matrix(-11.6800,-8.8200,0.0000,-66.9000,410.712,356.955)" d="M1.100,0H1.900V0.7870H1.100Z" fill="url(#pz2)" stroke="#222" stroke-width="0.6" stroke-linejoin="round" vector-effect="non-scaling-stroke"/><path transform="matrix(14.7200,-4.9500,0.0000,-66.9000,293.352,382.398)" d="M7.100,0H7.900V0.7870H7.100Z" fill="url(#pz2)" stroke="#222" stroke-width="0.6" stroke-linejoin="round" vector-effect="non-scaling-stroke"/><path d="M397.86,294.60L409.64,290.64L400.30,283.59L388.52,287.55Z" fill="#febe3c" stroke="#222" stroke-width="0.6" stroke-linejoin="round"/><path transform="matrix(-11.6800,-8.8200,0.0000,-66.9000,425.432,352.005)" d="M0.100,0H0.900V0.8910H0.100Z" fill="url(#pz2)" stroke="#222" stroke-width="0.6" stroke-linejoin="round" vector-effect="non-scaling-stroke"/><path transform="matrix(14.7200,-4.9500,0.0000,-66.9000,305.032,391.218)" d="M8.100,0H8.900V0.8910H8.100Z" fill="url(#pz2)" stroke="#222" stroke-width="0.6" stroke-linejoin="round" vector-effect="non-scaling-stroke"/><path d="M424.26,291.52L436.04,287.56L426.70,280.50L414.92,284.46Z" fill="#f5ea24" stroke="#222" stroke-width="0.6" stroke-linejoin="round"/><path transform="matrix(-11.6800,-8.8200,0.0000,-66.9000,337.112,381.705)" d="M5.100,0H5.900V0.7660H5.100Z" fill="url(#pz2)" stroke="#222" stroke-width="0.6" stroke-linejoin="round" vector-effect="non-scaling-stroke"/><path transform="matrix(14.7200,-4.9500,0.0000,-66.9000,246.632,347.118)" d="M2.100,0H2.900V0.7660H2.100Z" fill="url(#pz2)" stroke="#222" stroke-width="0.6" stroke-linejoin="round" vector-effect="non-scaling-stroke"/><path d="M277.54,285.48L289.32,281.52L279.98,274.46L268.20,278.42Z" fill="#f5ba3b" stroke="#222" stroke-width="0.6" stroke-linejoin="round"/><path transform="matrix(-11.6800,-8.8200,0.0000,-66.9000,351.832,376.755)" d="M4.100,0H4.900V0.7900H4.100Z" fill="url(#pz2)" stroke="#222" stroke-width="0.6" stroke-linejoin="round" vector-effect="non-scaling-stroke"/><path transform="matrix(14.7200,-4.9500,0.0000,-66.9000,258.312,355.938)" d="M3.100,0H3.900V0.7900H3.100Z" fill="url(#pz2)" stroke="#222" stroke-width="0.6" stroke-linejoin="round" vector-effect="non-scaling-stroke"/><path d="M303.94,287.74L315.72,283.78L306.38,276.73L294.60,280.69Z" fill="#febf3b" stroke="#222" stroke-width="0.6" stroke-linejoin="round"/><path transform="matrix(-11.6800,-8.8200,0.0000,-66.9000,366.552,371.805)" d="M3.100,0H3.900V0.6550H3.100Z" fill="url(#pz2)" stroke="#222" stroke-width="0.6" stroke-linejoin="round" vector-effect="non-scaling-stroke"/><path transform="matrix(14.7200,-4.9500,0.0000,-66.9000,269.992,364.758)" d="M4.100,0H4.900V0.6550H4.100Z" fill="url(#pz2)" stroke="#222" stroke-width="0.6" stroke-linejoin="round" vector-effect="non-scaling-stroke"/><path d="M330.34,300.64L342.12,296.68L332.78,289.63L321.00,293.59Z" fill="#a0c841" stroke="#222" stroke-width="0.6" stroke-linejoin="round"/><path transform="matrix(-11.6800,-8.8200,0.0000,-66.9000,381.272,366.855)" d="M2.100,0H2.900V0.8350H2.100Z" fill="url(#pz2)" stroke="#222" stroke-width="0.6" stroke-linejoin="round" vector-effect="non-scaling-stroke"/><path transform="matrix(14.7200,-4.9500,0.0000,-66.9000,281.672,373.578)" d="M5.100,0H5.900V0.8350H5.100Z" fill="url(#pz2)" stroke="#222" stroke-width="0.6" stroke-linejoin="round" vector-effect="non-scaling-stroke"/><path d="M356.74,292.47L368.52,288.51L359.18,281.46L347.40,285.42Z" fill="#fbd22f" stroke="#222" stroke-width="0.6" stroke-linejoin="round"/><path transform="matrix(-11.6800,-8.8200,0.0000,-66.9000,395.992,361.905)" d="M1.100,0H1.900V0.7870H1.100Z" fill="url(#pz2)" stroke="#222" stroke-width="0.6" stroke-linejoin="round" vector-effect="non-scaling-stroke"/><path transform="matrix(14.7200,-4.9500,0.0000,-66.9000,293.352,382.398)" d="M6.100,0H6.900V0.7870H6.100Z" fill="url(#pz2)" stroke="#222" stroke-width="0.6" stroke-linejoin="round" vector-effect="non-scaling-stroke"/><path d="M383.14,299.55L394.92,295.59L385.58,288.54L373.80,292.50Z" fill="#febe3c" stroke="#222" stroke-width="0.6" stroke-linejoin="round"/><path transform="matrix(-11.6800,-8.8200,0.0000,-66.9000,410.712,356.955)" d="M0.100,0H0.900V0.8850H0.100Z" fill="url(#pz2)" stroke="#222" stroke-width="0.6" stroke-linejoin="round" vector-effect="non-scaling-stroke"/><path transform="matrix(14.7200,-4.9500,0.0000,-66.9000,305.032,391.218)" d="M7.100,0H7.900V0.8850H7.100Z" fill="url(#pz2)" stroke="#222" stroke-width="0.6" stroke-linejoin="round" vector-effect="non-scaling-stroke"/><path d="M409.54,296.87L421.32,292.91L411.98,285.85L400.20,289.81Z" fill="#f5e725" stroke="#222" stroke-width="0.6" stroke-linejoin="round"/><path transform="matrix(-11.6800,-8.8200,0.0000,-66.9000,322.392,386.655)" d="M5.100,0H5.900V0.8140H5.100Z" fill="url(#pz2)" stroke="#222" stroke-width="0.6" stroke-linejoin="round" vector-effect="non-scaling-stroke"/><path transform="matrix(14.7200,-4.9500,0.0000,-66.9000,246.632,347.118)" d="M1.100,0H1.900V0.8140H1.100Z" fill="url(#pz2)" stroke="#222" stroke-width="0.6" stroke-linejoin="round" vector-effect="non-scaling-stroke"/><path d="M262.82,287.22L274.60,283.26L265.26,276.20L253.48,280.16Z" fill="#fec934" stroke="#222" stroke-width="0.6" stroke-linejoin="round"/><path transform="matrix(-11.6800,-8.8200,0.0000,-66.9000,337.112,381.705)" d="M4.100,0H4.900V0.7080H4.100Z" fill="url(#pz2)" stroke="#222" stroke-width="0.6" stroke-linejoin="round" vector-effect="non-scaling-stroke"/><path transform="matrix(14.7200,-4.9500,0.0000,-66.9000,258.312,355.938)" d="M2.100,0H2.900V0.7080H2.100Z" fill="url(#pz2)" stroke="#222" stroke-width="0.6" stroke-linejoin="round" vector-effect="non-scaling-stroke"/><path d="M289.22,298.18L301.00,294.22L291.66,287.16L279.88,291.12Z" fill="#cec028" stroke="#222" stroke-width="0.6" stroke-linejoin="round"/><path transform="matrix(-11.6800,-8.8200,0.0000,-66.9000,351.832,376.755)" d="M3.100,0H3.900V0.8270H3.100Z" fill="url(#pz2)" stroke="#222" stroke-width="0.6" stroke-linejoin="round" vector-effect="non-scaling-stroke"/><path transform="matrix(14.7200,-4.9500,0.0000,-66.9000,269.992,364.758)" d="M3.100,0H3.900V0.8270H3.100Z" fill="url(#pz2)" stroke="#222" stroke-width="0.6" stroke-linejoin="round" vector-effect="non-scaling-stroke"/><path d="M315.62,294.09L327.40,290.13L318.06,283.07L306.28,287.03Z" fill="#fdce31" stroke="#222" stroke-width="0.6" stroke-linejoin="round"/><path transform="matrix(-11.6800,-8.8200,0.0000,-66.9000,366.552,371.805)" d="M2.100,0H2.900V0.6900H2.100Z" fill="url(#pz2)" stroke="#222" stroke-width="0.6" stroke-linejoin="round" vector-effect="non-scaling-stroke"/><path transform="matrix(14.7200,-4.9500,0.0000,-66.9000,281.672,373.578)" d="M4.100,0H4.900V0.6900H4.100Z" fill="url(#pz2)" stroke="#222" stroke-width="0.6" stroke-linejoin="round" vector-effect="non-scaling-stroke"/><path d="M342.02,307.12L353.80,303.16L344.46,296.11L332.68,300.07Z" fill="#c0c32d" stroke="#222" stroke-width="0.6" stroke-linejoin="round"/><path transform="matrix(-11.6800,-8.8200,0.0000,-66.9000,381.272,366.855)" d="M1.100,0H1.900V0.7870H1.100Z" fill="url(#pz2)" stroke="#222" stroke-width="0.6" stroke-linejoin="round" vector-effect="non-scaling-stroke"/><path transform="matrix(14.7200,-4.9500,0.0000,-66.9000,293.352,382.398)" d="M5.100,0H5.900V0.7870H5.100Z" fill="url(#pz2)" stroke="#222" stroke-width="0.6" stroke-linejoin="round" vector-effect="non-scaling-stroke"/><path d="M368.42,304.50L380.20,300.54L370.86,293.49L359.08,297.45Z" fill="#febe3c" stroke="#222" stroke-width="0.6" stroke-linejoin="round"/><path transform="matrix(-11.6800,-8.8200,0.0000,-66.9000,395.992,361.905)" d="M0.100,0H0.900V0.9120H0.100Z" fill="url(#pz2)" stroke="#222" stroke-width="0.6" stroke-linejoin="round" vector-effect="non-scaling-stroke"/><path transform="matrix(14.7200,-4.9500,0.0000,-66.9000,305.032,391.218)" d="M6.100,0H6.900V0.9120H6.100Z" fill="url(#pz2)" stroke="#222" stroke-width="0.6" stroke-linejoin="round" vector-effect="non-scaling-stroke"/><path d="M394.82,300.01L406.60,296.05L397.26,288.99L385.48,292.95Z" fill="#f6f21e" stroke="#222" stroke-width="0.6" stroke-linejoin="round"/><path transform="matrix(-11.6800,-8.8200,0.0000,-66.9000,307.672,391.605)" d="M5.100,0H5.900V0.8800H5.100Z" fill="url(#pz2)" stroke="#222" stroke-width="0.6" stroke-linejoin="round" vector-effect="non-scaling-stroke"/><path transform="matrix(14.7200,-4.9500,0.0000,-66.9000,246.632,347.118)" d="M0.100,0H0.900V0.8800H0.100Z" fill="url(#pz2)" stroke="#222" stroke-width="0.6" stroke-linejoin="round" vector-effect="non-scaling-stroke"/><path d="M248.10,287.75L259.88,283.79L250.54,276.74L238.76,280.69Z" fill="#f5e526" stroke="#222" stroke-width="0.6" stroke-linejoin="round"/><path transform="matrix(-11.6800,-8.8200,0.0000,-66.9000,322.392,386.655)" d="M4.100,0H4.900V0.7690H4.100Z" fill="url(#pz2)" stroke="#222" stroke-width="0.6" stroke-linejoin="round" vector-effect="non-scaling-stroke"/><path transform="matrix(14.7200,-4.9500,0.0000,-66.9000,258.312,355.938)" d="M1.100,0H1.900V0.7690H1.100Z" fill="url(#pz2)" stroke="#222" stroke-width="0.6" stroke-linejoin="round" vector-effect="non-scaling-stroke"/><path d="M274.50,299.05L286.28,295.09L276.94,288.03L265.16,291.99Z" fill="#f7ba3c" stroke="#222" stroke-width="0.6" stroke-linejoin="round"/><path transform="matrix(-11.6800,-8.8200,0.0000,-66.9000,337.112,381.705)" d="M3.100,0H3.900V0.7410H3.100Z" fill="url(#pz2)" stroke="#222" stroke-width="0.6" stroke-linejoin="round" vector-effect="non-scaling-stroke"/><path transform="matrix(14.7200,-4.9500,0.0000,-66.9000,269.992,364.758)" d="M2.100,0H2.900V0.7410H2.100Z" fill="url(#pz2)" stroke="#222" stroke-width="0.6" stroke-linejoin="round" vector-effect="non-scaling-stroke"/><path d="M300.90,304.79L312.68,300.83L303.34,293.77L291.56,297.73Z" fill="#e6bb2d" stroke="#222" stroke-width="0.6" stroke-linejoin="round"/><path transform="matrix(-11.6800,-8.8200,0.0000,-66.9000,351.832,376.755)" d="M2.100,0H2.900V0.8500H2.100Z" fill="url(#pz2)" stroke="#222" stroke-width="0.6" stroke-linejoin="round" vector-effect="non-scaling-stroke"/><path transform="matrix(14.7200,-4.9500,0.0000,-66.9000,281.672,373.578)" d="M3.100,0H3.900V0.8500H3.100Z" fill="url(#pz2)" stroke="#222" stroke-width="0.6" stroke-linejoin="round" vector-effect="non-scaling-stroke"/><path d="M327.30,301.37L339.08,297.41L329.74,290.35L317.96,294.31Z" fill="#f9d82c" stroke="#222" stroke-width="0.6" stroke-linejoin="round"/><path transform="matrix(-11.6800,-8.8200,0.0000,-66.9000,366.552,371.805)" d="M1.100,0H1.900V0.6600H1.100Z" fill="url(#pz2)" stroke="#222" stroke-width="0.6" stroke-linejoin="round" vector-effect="non-scaling-stroke"/><path transform="matrix(14.7200,-4.9500,0.0000,-66.9000,293.352,382.398)" d="M4.100,0H4.900V0.6600H4.100Z" fill="url(#pz2)" stroke="#222" stroke-width="0.6" stroke-linejoin="round" vector-effect="non-scaling-stroke"/><path d="M353.70,317.95L365.48,313.99L356.14,306.93L344.36,310.89Z" fill="#a5c83e" stroke="#222" stroke-width="0.6" stroke-linejoin="round"/><path transform="matrix(-11.6800,-8.8200,0.0000,-66.9000,381.272,366.855)" d="M0.100,0H0.900V0.8920H0.100Z" fill="url(#pz2)" stroke="#222" stroke-width="0.6" stroke-linejoin="round" vector-effect="non-scaling-stroke"/><path transform="matrix(14.7200,-4.9500,0.0000,-66.9000,305.032,391.218)" d="M5.100,0H5.900V0.8920H5.100Z" fill="url(#pz2)" stroke="#222" stroke-width="0.6" stroke-linejoin="round" vector-effect="non-scaling-stroke"/><path d="M380.10,306.30L391.88,302.34L382.54,295.28L370.76,299.24Z" fill="#f5ea24" stroke="#222" stroke-width="0.6" stroke-linejoin="round"/><path transform="matrix(-11.6800,-8.8200,0.0000,-66.9000,307.672,391.605)" d="M4.100,0H4.900V0.8400H4.100Z" fill="url(#pz2)" stroke="#222" stroke-width="0.6" stroke-linejoin="round" vector-effect="non-scaling-stroke"/><path transform="matrix(14.7200,-4.9500,0.0000,-66.9000,258.312,355.938)" d="M0.100,0H0.900V0.8400H0.100Z" fill="url(#pz2)" stroke="#222" stroke-width="0.6" stroke-linejoin="round" vector-effect="non-scaling-stroke"/><path d="M259.78,299.25L271.56,295.29L262.22,288.23L250.44,292.19Z" fill="#fad42e" stroke="#222" stroke-width="0.6" stroke-linejoin="round"/><path transform="matrix(-11.6800,-8.8200,0.0000,-66.9000,322.392,386.655)" d="M3.100,0H3.900V0.7970H3.100Z" fill="url(#pz2)" stroke="#222" stroke-width="0.6" stroke-linejoin="round" vector-effect="non-scaling-stroke"/><path transform="matrix(14.7200,-4.9500,0.0000,-66.9000,269.992,364.758)" d="M1.100,0H1.900V0.7970H1.100Z" fill="url(#pz2)" stroke="#222" stroke-width="0.6" stroke-linejoin="round" vector-effect="non-scaling-stroke"/><path d="M286.18,305.99L297.96,302.03L288.62,294.98L276.84,298.94Z" fill="#fec239" stroke="#222" stroke-width="0.6" stroke-linejoin="round"/><path transform="matrix(-11.6800,-8.8200,0.0000,-66.9000,337.112,381.705)" d="M2.100,0H2.900V0.7460H2.100Z" fill="url(#pz2)" stroke="#222" stroke-width="0.6" stroke-linejoin="round" vector-effect="non-scaling-stroke"/><path transform="matrix(14.7200,-4.9500,0.0000,-66.9000,281.672,373.578)" d="M2.100,0H2.900V0.7460H2.100Z" fill="url(#pz2)" stroke="#222" stroke-width="0.6" stroke-linejoin="round" vector-effect="non-scaling-stroke"/><path d="M312.58,313.28L324.36,309.32L315.02,302.26L303.24,306.22Z" fill="#e9bb30" stroke="#222" stroke-width="0.6" stroke-linejoin="round"/><path transform="matrix(-11.6800,-8.8200,0.0000,-66.9000,351.832,376.755)" d="M1.100,0H1.900V0.7400H1.100Z" fill="url(#pz2)" stroke="#222" stroke-width="0.6" stroke-linejoin="round" vector-effect="non-scaling-stroke"/><path transform="matrix(14.7200,-4.9500,0.0000,-66.9000,293.352,382.398)" d="M3.100,0H3.900V0.7400H3.100Z" fill="url(#pz2)" stroke="#222" stroke-width="0.6" stroke-linejoin="round" vector-effect="non-scaling-stroke"/><path d="M338.98,317.55L350.76,313.59L341.42,306.53L329.64,310.49Z" fill="#e6bb2d" stroke="#222" stroke-width="0.6" stroke-linejoin="round"/><path transform="matrix(-11.6800,-8.8200,0.0000,-66.9000,366.552,371.805)" d="M0.100,0H0.900V0.7990H0.100Z" fill="url(#pz2)" stroke="#222" stroke-width="0.6" stroke-linejoin="round" vector-effect="non-scaling-stroke"/><path transform="matrix(14.7200,-4.9500,0.0000,-66.9000,305.032,391.218)" d="M4.100,0H4.900V0.7990H4.100Z" fill="url(#pz2)" stroke="#222" stroke-width="0.6" stroke-linejoin="round" vector-effect="non-scaling-stroke"/><path d="M365.38,317.47L377.16,313.51L367.82,306.45L356.04,310.41Z" fill="#fec339" stroke="#222" stroke-width="0.6" stroke-linejoin="round"/><path transform="matrix(-11.6800,-8.8200,0.0000,-66.9000,307.672,391.605)" d="M3.100,0H3.900V0.8640H3.100Z" fill="url(#pz2)" stroke="#222" stroke-width="0.6" stroke-linejoin="round" vector-effect="non-scaling-stroke"/><path transform="matrix(14.7200,-4.9500,0.0000,-66.9000,269.992,364.758)" d="M0.100,0H0.900V0.8640H0.100Z" fill="url(#pz2)" stroke="#222" stroke-width="0.6" stroke-linejoin="round" vector-effect="non-scaling-stroke"/><path d="M271.46,306.46L283.24,302.50L273.90,295.45L262.12,299.41Z" fill="#f6de29" stroke="#222" stroke-width="0.6" stroke-linejoin="round"/><path transform="matrix(-11.6800,-8.8200,0.0000,-66.9000,322.392,386.655)" d="M2.100,0H2.900V0.7990H2.100Z" fill="url(#pz2)" stroke="#222" stroke-width="0.6" stroke-linejoin="round" vector-effect="non-scaling-stroke"/><path transform="matrix(14.7200,-4.9500,0.0000,-66.9000,281.672,373.578)" d="M1.100,0H1.900V0.7990H1.100Z" fill="url(#pz2)" stroke="#222" stroke-width="0.6" stroke-linejoin="round" vector-effect="non-scaling-stroke"/><path d="M297.86,314.68L309.64,310.72L300.30,303.66L288.52,307.62Z" fill="#fec339" stroke="#222" stroke-width="0.6" stroke-linejoin="round"/><path transform="matrix(-11.6800,-8.8200,0.0000,-66.9000,337.112,381.705)" d="M1.100,0H1.900V0.6700H1.100Z" fill="url(#pz2)" stroke="#222" stroke-width="0.6" stroke-linejoin="round" vector-effect="non-scaling-stroke"/><path transform="matrix(14.7200,-4.9500,0.0000,-66.9000,293.352,382.398)" d="M2.100,0H2.900V0.6700H2.100Z" fill="url(#pz2)" stroke="#222" stroke-width="0.6" stroke-linejoin="round" vector-effect="non-scaling-stroke"/><path d="M324.26,327.18L336.04,323.22L326.70,316.16L314.92,320.12Z" fill="#aec637" stroke="#222" stroke-width="0.6" stroke-linejoin="round"/><path transform="matrix(-11.6800,-8.8200,0.0000,-66.9000,351.832,376.755)" d="M0.100,0H0.900V0.9070H0.100Z" fill="url(#pz2)" stroke="#222" stroke-width="0.6" stroke-linejoin="round" vector-effect="non-scaling-stroke"/><path transform="matrix(14.7200,-4.9500,0.0000,-66.9000,305.032,391.218)" d="M3.100,0H3.900V0.9070H3.100Z" fill="url(#pz2)" stroke="#222" stroke-width="0.6" stroke-linejoin="round" vector-effect="non-scaling-stroke"/><path d="M350.66,315.19L362.44,311.23L353.10,304.18L341.32,308.14Z" fill="#f6f01f" stroke="#222" stroke-width="0.6" stroke-linejoin="round"/><path transform="matrix(-11.6800,-8.8200,0.0000,-66.9000,307.672,391.605)" d="M2.100,0H2.900V0.8820H2.100Z" fill="url(#pz2)" stroke="#222" stroke-width="0.6" stroke-linejoin="round" vector-effect="non-scaling-stroke"/><path transform="matrix(14.7200,-4.9500,0.0000,-66.9000,281.672,373.578)" d="M0.100,0H0.900V0.8820H0.100Z" fill="url(#pz2)" stroke="#222" stroke-width="0.6" stroke-linejoin="round" vector-effect="non-scaling-stroke"/><path d="M283.14,314.08L294.92,310.12L285.58,303.06L273.80,307.02Z" fill="#f5e626" stroke="#222" stroke-width="0.6" stroke-linejoin="round"/><path transform="matrix(-11.6800,-8.8200,0.0000,-66.9000,322.392,386.655)" d="M1.100,0H1.900V0.7620H1.100Z" fill="url(#pz2)" stroke="#222" stroke-width="0.6" stroke-linejoin="round" vector-effect="non-scaling-stroke"/><path transform="matrix(14.7200,-4.9500,0.0000,-66.9000,293.352,382.398)" d="M1.100,0H1.900V0.7620H1.100Z" fill="url(#pz2)" stroke="#222" stroke-width="0.6" stroke-linejoin="round" vector-effect="non-scaling-stroke"/><path d="M309.54,325.98L321.32,322.02L311.98,314.96L300.20,318.92Z" fill="#f3ba39" stroke="#222" stroke-width="0.6" stroke-linejoin="round"/><path transform="matrix(-11.6800,-8.8200,0.0000,-66.9000,337.112,381.705)" d="M0.100,0H0.900V0.8410H0.100Z" fill="url(#pz2)" stroke="#222" stroke-width="0.6" stroke-linejoin="round" vector-effect="non-scaling-stroke"/><path transform="matrix(14.7200,-4.9500,0.0000,-66.9000,305.032,391.218)" d="M2.100,0H2.900V0.8410H2.100Z" fill="url(#pz2)" stroke="#222" stroke-width="0.6" stroke-linejoin="round" vector-effect="non-scaling-stroke"/><path d="M335.94,324.56L347.72,320.60L338.38,313.54L326.60,317.50Z" fill="#fad42e" stroke="#222" stroke-width="0.6" stroke-linejoin="round"/><path transform="matrix(-11.6800,-8.8200,0.0000,-66.9000,307.672,391.605)" d="M1.100,0H1.900V0.8330H1.100Z" fill="url(#pz2)" stroke="#222" stroke-width="0.6" stroke-linejoin="round" vector-effect="non-scaling-stroke"/><path transform="matrix(14.7200,-4.9500,0.0000,-66.9000,293.352,382.398)" d="M0.100,0H0.900V0.8330H0.100Z" fill="url(#pz2)" stroke="#222" stroke-width="0.6" stroke-linejoin="round" vector-effect="non-scaling-stroke"/><path d="M294.82,326.18L306.60,322.22L297.26,315.16L285.48,319.12Z" fill="#fcd12f" stroke="#222" stroke-width="0.6" stroke-linejoin="round"/><path transform="matrix(-11.6800,-8.8200,0.0000,-66.9000,322.392,386.655)" d="M0.100,0H0.900V0.8650H0.100Z" fill="url(#pz2)" stroke="#222" stroke-width="0.6" stroke-linejoin="round" vector-effect="non-scaling-stroke"/><path transform="matrix(14.7200,-4.9500,0.0000,-66.9000,305.032,391.218)" d="M1.100,0H1.900V0.8650H1.100Z" fill="url(#pz2)" stroke="#222" stroke-width="0.6" stroke-linejoin="round" vector-effect="non-scaling-stroke"/><path d="M321.22,327.90L333.00,323.94L323.66,316.89L311.88,320.85Z" fill="#f6df29" stroke="#222" stroke-width="0.6" stroke-linejoin="round"/><path transform="matrix(-11.6800,-8.8200,0.0000,-66.9000,307.672,391.605)" d="M0.100,0H0.900V0.9340H0.100Z" fill="url(#pz2)" stroke="#222" stroke-width="0.6" stroke-linejoin="round" vector-effect="non-scaling-stroke"/><path transform="matrix(14.7200,-4.9500,0.0000,-66.9000,305.032,391.218)" d="M0.100,0H0.900V0.9340H0.100Z" fill="url(#pz2)" stroke="#222" stroke-width="0.6" stroke-linejoin="round" vector-effect="non-scaling-stroke"/><path d="M306.50,328.24L318.28,324.28L308.94,317.22L297.16,321.18Z" fill="#f9fb15" stroke="#222" stroke-width="0.6" stroke-linejoin="round"/></g><g stroke="#262626" stroke-width="0.6" fill="none" stroke-linecap="square"><line x1="306.20" y1="392.10" x2="468.12" y2="337.65"/><line x1="306.20" y1="392.10" x2="236.12" y2="339.18"/><line x1="236.12" y1="339.18" x2="236.12" y2="272.28"/><line x1="313.56" y1="389.62" x2="316.48" y2="391.83"/><line x1="328.28" y1="384.68" x2="331.20" y2="386.88"/><line x1="343.00" y1="379.73" x2="345.92" y2="381.93"/><line x1="357.72" y1="374.78" x2="360.64" y2="376.98"/><line x1="372.44" y1="369.83" x2="375.36" y2="372.03"/><line x1="387.16" y1="364.88" x2="390.08" y2="367.08"/><line x1="401.88" y1="359.93" x2="404.80" y2="362.13"/><line x1="416.60" y1="354.98" x2="419.52" y2="357.18"/><line x1="431.32" y1="350.03" x2="434.24" y2="352.23"/><line x1="446.04" y1="345.08" x2="448.96" y2="347.28"/><line x1="460.76" y1="340.12" x2="463.68" y2="342.33"/><line x1="300.36" y1="387.69" x2="296.68" y2="388.93"/><line x1="288.68" y1="378.87" x2="285.00" y2="380.11"/><line x1="277.00" y1="370.05" x2="273.32" y2="371.29"/><line x1="265.32" y1="361.23" x2="261.64" y2="362.47"/><line x1="253.64" y1="352.41" x2="249.96" y2="353.65"/><line x1="241.96" y1="343.59" x2="238.28" y2="344.83"/><line x1="236.12" y1="339.18" x2="232.73" y2="336.62"/><line x1="236.12" y1="305.73" x2="232.73" y2="303.17"/><line x1="236.12" y1="272.28" x2="232.73" y2="269.72"/></g><g font-family="Liberation Sans, sans-serif" font-size="9.3" fill="#262626" stroke="#262626" stroke-width="0.12" opacity="0.995"><text x="318.68" y="397.78" transform="rotate(40 318.68 397.78)">Realism</text><text x="333.40" y="392.83" transform="rotate(40 333.40 392.83)">PostImpres.</text><text x="348.12" y="387.88" transform="rotate(40 348.12 387.88)">Neoclassicism</text><text x="362.84" y="382.93" transform="rotate(40 362.84 382.93)">Minimalism</text><text x="377.56" y="377.98" transform="rotate(40 377.56 377.98)">MagicRealism</text><text x="392.28" y="373.03" transform="rotate(40 392.28 373.03)">Impressionism</text><text x="407.00" y="368.08" transform="rotate(40 407.00 368.08)">Expressionism</text><text x="421.72" y="363.13" transform="rotate(40 421.72 363.13)">Cubism</text><text x="436.44" y="358.18" transform="rotate(40 436.44 358.18)">ColorFieldPain</text><text x="451.16" y="353.23" transform="rotate(40 451.16 353.23)">Abs.Expres.</text><text x="465.88" y="348.28" transform="rotate(40 465.88 348.28)">AbstractArt</text><text x="294.56" y="394.21" text-anchor="end" transform="rotate(-30 294.56 394.21)">Proposed</text><text x="282.88" y="385.39" text-anchor="end" transform="rotate(-30 282.88 385.39)">Proposed (no LABHO)</text><text x="271.20" y="376.57" text-anchor="end" transform="rotate(-30 271.20 376.57)">proposed (BHO only)</text><text x="259.52" y="367.75" text-anchor="end" transform="rotate(-30 259.52 367.75)">Mohammadi et al [26]</text><text x="247.84" y="358.93" text-anchor="end" transform="rotate(-30 247.84 358.93)">Yang [22]</text><text x="236.16" y="350.11" text-anchor="end" transform="rotate(-30 236.16 350.11)">Zhao et al [23]</text><text x="229.42" y="338.88" text-anchor="end">0</text><text x="229.42" y="305.43" text-anchor="end">0.5</text><text x="229.42" y="271.98" text-anchor="end">1</text><text x="209.92" y="305.78" text-anchor="middle" font-size="10.2" transform="rotate(-90 209.92 305.78)">F-Measure</text></g></svg></body></html>
